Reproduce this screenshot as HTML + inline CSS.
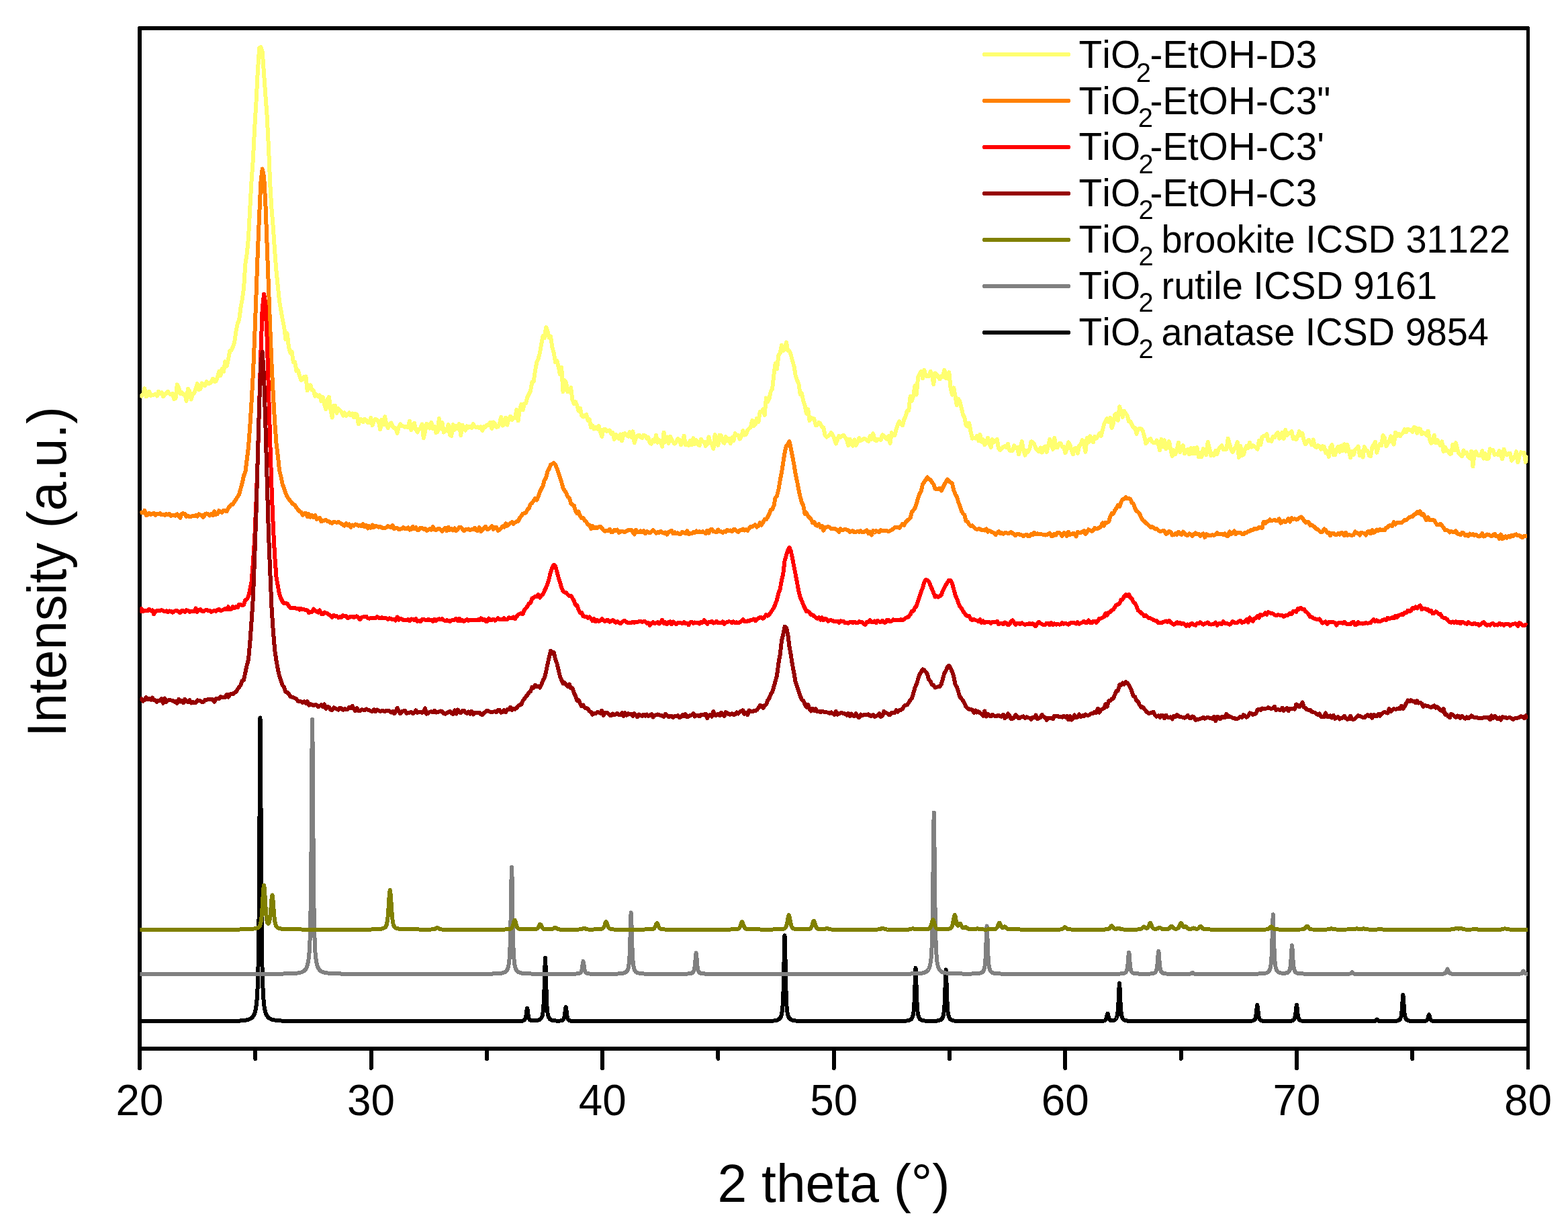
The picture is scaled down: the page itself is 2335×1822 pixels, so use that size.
<!DOCTYPE html>
<html lang="en"><head><meta charset="utf-8"><title>XRD patterns of TiO2 samples</title>
<style>html,body{margin:0;padding:0;background:#fff}svg{display:block}</style></head>
<body>
<svg width="2335" height="1822" viewBox="0 0 2335 1822" font-family="'Liberation Sans', sans-serif" fill="#000" style="font-kerning:none">
<rect width="2335" height="1822" fill="#fff"/>
<defs><clipPath id="pc"><rect x="208.4" y="42.0" width="2067.0" height="1519.0"/></clipPath></defs>
<g stroke="#000" stroke-width="6" fill="none" stroke-linecap="round" stroke-linejoin="round" shape-rendering="crispEdges">
<path d="M208.0,1590.0 V42.0 H2275.0"/>
<path d="M208.0,1561.0 H2275.5" stroke-linecap="butt"/>
<path d="M2275.5,42.0 V1590.0" stroke-width="5"/>
<path d="M552.58,1561.0 V1590.0"/>
<path d="M897.17,1561.0 V1590.0"/>
<path d="M1241.75,1561.0 V1590.0"/>
<path d="M1586.33,1561.0 V1590.0"/>
<path d="M1930.92,1561.0 V1590.0"/>
<path d="M380.29,1561.0 V1576.0"/>
<path d="M724.88,1561.0 V1576.0"/>
<path d="M1069.46,1561.0 V1576.0"/>
<path d="M1414.04,1561.0 V1576.0"/>
<path d="M1758.62,1561.0 V1576.0"/>
<path d="M2103.21,1561.0 V1576.0"/>
</g>
<g clip-path="url(#pc)" fill="none" stroke-width="6" stroke-linejoin="round" stroke-linecap="butt" shape-rendering="crispEdges">
<polyline stroke="#FFFF70" points="208.4,587.0 210.7,589.6 213.0,587.1 215.3,578.3 217.6,590.4 219.9,588.0 222.2,582.8 224.6,589.0 226.9,588.0 229.2,587.8 231.5,586.5 233.8,589.4 236.1,582.6 238.4,585.9 240.7,584.3 243.0,590.2 245.3,587.3 247.6,585.6 249.9,583.0 252.3,585.9 254.6,587.3 256.9,585.8 259.2,594.3 261.5,592.7 263.8,572.4 266.1,576.7 268.4,585.8 270.7,584.2 273.0,587.3 275.3,586.9 277.6,596.8 280.0,578.7 282.3,582.1 284.6,594.6 286.9,586.3 289.2,585.6 291.5,578.3 293.8,571.2 296.1,580.1 298.4,578.8 300.7,570.4 303.0,572.1 305.3,574.2 307.7,568.1 310.0,571.2 312.3,570.7 314.6,568.7 316.9,563.9 319.2,568.0 321.5,567.5 323.8,562.0 326.1,553.1 328.4,558.8 330.7,548.9 333.0,553.0 335.3,538.3 337.7,544.9 340.0,534.8 342.3,522.4 344.6,521.3 346.9,516.3 349.2,509.3 351.5,492.9 353.8,481.4 356.1,476.5 358.4,458.3 360.7,445.8 363.0,429.5 365.4,392.8 367.7,378.0 370.0,353.8 372.3,310.3 374.6,268.7 376.9,236.8 379.2,190.2 381.5,151.9 383.8,106.4 386.1,71.8 388.4,70.1 390.7,76.6 393.1,110.1 395.4,142.8 397.7,173.2 400.0,219.8 402.3,275.0 404.6,312.6 406.9,339.4 409.2,374.0 411.5,403.3 413.8,426.4 416.1,448.6 418.4,462.1 420.7,474.9 423.1,486.7 425.4,505.3 427.7,496.3 430.0,516.7 432.3,525.2 434.6,523.6 436.9,539.3 439.2,539.1 441.5,552.3 443.8,551.1 446.1,559.4 448.4,566.0 450.8,564.7 453.1,561.0 455.4,560.4 457.7,581.3 460.0,573.8 462.3,573.3 464.6,580.6 466.9,581.3 469.2,589.6 471.5,587.6 473.8,590.0 476.1,588.4 478.5,597.1 480.8,591.2 483.1,602.5 485.4,609.2 487.7,594.5 490.0,591.1 492.3,609.6 494.6,621.6 496.9,603.7 499.2,603.6 501.5,614.8 503.8,608.2 506.2,611.0 508.5,612.9 510.8,618.6 513.1,614.4 515.4,619.0 517.7,617.3 520.0,614.5 522.3,618.1 524.6,615.5 526.9,621.4 529.2,616.0 531.5,616.9 533.8,631.4 536.2,623.9 538.5,624.5 540.8,628.2 543.1,623.8 545.4,625.4 547.7,629.5 550.0,629.2 552.3,621.9 554.6,633.2 556.9,625.9 559.2,623.8 561.5,625.0 563.9,628.2 566.2,639.5 568.5,624.6 570.8,632.2 573.1,620.1 575.4,632.0 577.7,637.2 580.0,631.3 582.3,629.5 584.6,634.4 586.9,637.2 589.2,637.3 591.6,644.7 593.9,635.4 596.2,631.3 598.5,634.0 600.8,634.5 603.1,635.7 605.4,635.1 607.7,636.4 610.0,626.6 612.3,640.3 614.6,632.8 616.9,629.7 619.3,639.6 621.6,643.4 623.9,639.1 626.2,637.4 628.5,631.5 630.8,652.2 633.1,641.6 635.4,630.7 637.7,632.7 640.0,637.5 642.3,628.7 644.6,638.1 646.9,634.8 649.3,644.0 651.6,642.6 653.9,622.8 656.2,637.7 658.5,628.8 660.8,643.6 663.1,638.6 665.4,640.7 667.7,632.0 670.0,647.7 672.3,648.7 674.6,632.1 677.0,639.9 679.3,634.2 681.6,637.8 683.9,631.0 686.2,648.0 688.5,632.6 690.8,636.3 693.1,640.6 695.4,634.3 697.7,636.5 700.0,634.7 702.3,637.0 704.7,631.3 707.0,635.1 709.3,636.3 711.6,635.5 713.9,637.4 716.2,635.4 718.5,640.9 720.8,634.8 723.1,635.6 725.4,632.5 727.7,633.0 730.0,628.6 732.4,638.0 734.7,628.5 737.0,630.2 739.3,635.8 741.6,635.4 743.9,630.5 746.2,621.0 748.5,633.5 750.8,631.8 753.1,621.7 755.4,632.6 757.7,623.4 760.0,619.7 762.4,624.9 764.7,621.8 767.0,622.0 769.3,609.9 771.6,626.3 773.9,610.3 776.2,602.0 778.5,610.4 780.8,601.0 783.1,600.2 785.4,591.2 787.7,586.8 790.1,581.6 792.4,568.4 794.7,567.8 797.0,551.8 799.3,539.3 801.6,534.0 803.9,525.5 806.2,511.9 808.5,500.2 810.8,503.3 813.1,487.1 815.4,492.4 817.8,502.7 820.1,501.1 822.4,517.1 824.7,525.2 827.0,539.2 829.3,536.8 831.6,545.6 833.9,557.3 836.2,547.0 838.5,583.1 840.8,566.1 843.1,570.0 845.4,583.1 847.8,582.3 850.1,577.0 852.4,595.0 854.7,600.8 857.0,598.1 859.3,603.3 861.6,611.7 863.9,607.8 866.2,618.6 868.5,620.5 870.8,618.5 873.1,617.1 875.5,625.8 877.8,624.4 880.1,636.5 882.4,633.5 884.7,638.6 887.0,636.4 889.3,638.4 891.6,633.9 893.9,642.9 896.2,649.9 898.5,639.5 900.8,638.8 903.2,641.9 905.5,640.9 907.8,640.4 910.1,645.7 912.4,643.9 914.7,653.9 917.0,646.7 919.3,649.0 921.6,652.9 923.9,646.5 926.2,656.4 928.5,645.6 930.9,645.1 933.2,647.9 935.5,649.6 937.8,643.0 940.1,650.8 942.4,642.3 944.7,659.2 947.0,651.5 949.3,648.7 951.6,647.6 953.9,650.7 956.2,651.9 958.5,647.7 960.9,648.6 963.2,652.8 965.5,651.2 967.8,659.4 970.1,660.7 972.4,654.8 974.7,657.5 977.0,647.9 979.3,658.8 981.6,655.4 983.9,658.4 986.2,664.6 988.6,643.7 990.9,657.7 993.2,650.5 995.5,659.8 997.8,649.6 1000.1,654.2 1002.4,658.1 1004.7,660.5 1007.0,657.7 1009.3,653.1 1011.6,654.5 1013.9,662.4 1016.3,657.7 1018.6,648.7 1020.9,662.4 1023.2,660.2 1025.5,662.7 1027.8,656.2 1030.1,662.5 1032.4,652.3 1034.7,661.1 1037.0,655.4 1039.3,661.6 1041.6,663.3 1044.0,653.8 1046.3,657.4 1048.6,657.8 1050.9,663.9 1053.2,661.1 1055.5,650.5 1057.8,659.4 1060.1,660.7 1062.4,667.9 1064.7,647.0 1067.0,653.0 1069.3,662.8 1071.6,647.9 1074.0,648.4 1076.3,657.3 1078.6,659.6 1080.9,650.0 1083.2,656.1 1085.5,653.3 1087.8,660.3 1090.1,651.4 1092.4,656.2 1094.7,645.1 1097.0,648.2 1099.3,647.8 1101.7,653.6 1104.0,649.5 1106.3,641.1 1108.6,647.6 1110.9,646.7 1113.2,640.4 1115.5,637.9 1117.8,636.3 1120.1,626.0 1122.4,634.0 1124.7,631.7 1127.0,622.7 1129.4,628.4 1131.7,613.1 1134.0,613.5 1136.3,609.4 1138.6,618.1 1140.9,592.4 1143.2,598.2 1145.5,593.4 1147.8,582.6 1150.1,578.9 1152.4,557.7 1154.7,541.2 1157.0,549.2 1159.4,529.0 1161.7,525.8 1164.0,514.0 1166.3,522.0 1168.6,518.5 1170.9,509.5 1173.2,521.7 1175.5,522.4 1177.8,527.9 1180.1,537.4 1182.4,544.9 1184.7,558.9 1187.1,566.2 1189.4,571.2 1191.7,587.0 1194.0,585.3 1196.3,597.2 1198.6,604.1 1200.9,615.5 1203.2,609.4 1205.5,626.2 1207.8,621.5 1210.1,623.0 1212.4,623.5 1214.8,633.2 1217.1,632.8 1219.4,628.7 1221.7,630.6 1224.0,635.6 1226.3,636.5 1228.6,647.7 1230.9,650.6 1233.2,649.0 1235.5,647.4 1237.8,644.1 1240.1,647.6 1242.5,653.0 1244.8,660.5 1247.1,654.6 1249.4,648.7 1251.7,651.0 1254.0,648.7 1256.3,647.6 1258.6,651.3 1260.9,653.7 1263.2,663.0 1265.5,653.6 1267.8,661.0 1270.1,663.5 1272.5,654.5 1274.8,663.0 1277.1,658.3 1279.4,652.2 1281.7,656.0 1284.0,654.7 1286.3,653.3 1288.6,653.4 1290.9,655.2 1293.2,656.7 1295.5,649.3 1297.8,653.9 1300.2,645.4 1302.5,654.8 1304.8,656.4 1307.1,653.5 1309.4,653.7 1311.7,654.8 1314.0,647.3 1316.3,648.9 1318.6,652.1 1320.9,653.8 1323.2,649.4 1325.5,660.0 1327.9,644.1 1330.2,648.4 1332.5,648.0 1334.8,638.2 1337.1,632.0 1339.4,627.3 1341.7,631.5 1344.0,633.2 1346.3,624.6 1348.6,619.6 1350.9,611.5 1353.2,611.2 1355.6,590.1 1357.9,596.9 1360.2,589.0 1362.5,574.2 1364.8,587.5 1367.1,561.1 1369.4,557.5 1371.7,552.7 1374.0,563.2 1376.3,550.6 1378.6,559.7 1380.9,560.3 1383.2,560.1 1385.6,552.8 1387.9,558.2 1390.2,572.1 1392.5,555.5 1394.8,557.6 1397.1,560.3 1399.4,564.4 1401.7,559.7 1404.0,561.3 1406.3,550.6 1408.6,562.9 1410.9,563.0 1413.3,554.4 1415.6,577.3 1417.9,587.7 1420.2,577.2 1422.5,588.9 1424.8,603.4 1427.1,594.1 1429.4,597.7 1431.7,607.5 1434.0,616.9 1436.3,621.7 1438.6,632.6 1441.0,634.7 1443.3,629.8 1445.6,642.9 1447.9,652.8 1450.2,651.5 1452.5,652.5 1454.8,649.1 1457.1,656.1 1459.4,647.0 1461.7,657.7 1464.0,654.4 1466.3,662.2 1468.6,659.5 1471.0,652.0 1473.3,659.5 1475.6,666.2 1477.9,654.1 1480.2,657.8 1482.5,657.3 1484.8,653.9 1487.1,667.8 1489.4,670.2 1491.7,667.8 1494.0,665.2 1496.3,664.0 1498.7,665.9 1501.0,661.0 1503.3,670.2 1505.6,671.3 1507.9,670.9 1510.2,663.3 1512.5,666.8 1514.8,665.7 1517.1,676.5 1519.4,668.0 1521.7,657.0 1524.0,669.5 1526.4,677.7 1528.7,671.3 1531.0,672.5 1533.3,668.1 1535.6,657.3 1537.9,658.3 1540.2,661.4 1542.5,667.5 1544.8,670.0 1547.1,672.1 1549.4,666.5 1551.7,673.6 1554.1,666.9 1556.4,664.6 1558.7,673.1 1561.0,663.5 1563.3,653.6 1565.6,662.6 1567.9,668.8 1570.2,651.6 1572.5,666.3 1574.8,666.3 1577.1,660.3 1579.4,659.8 1581.7,665.2 1584.1,664.6 1586.4,674.2 1588.7,669.2 1591.0,658.3 1593.3,662.0 1595.6,670.1 1597.9,676.2 1600.2,667.7 1602.5,666.8 1604.8,674.7 1607.1,663.9 1609.4,661.7 1611.8,655.0 1614.1,659.0 1616.4,672.7 1618.7,651.9 1621.0,658.5 1623.3,649.2 1625.6,655.9 1627.9,658.1 1630.2,649.7 1632.5,652.6 1634.8,649.8 1637.1,645.3 1639.5,649.2 1641.8,640.8 1644.1,631.6 1646.4,626.5 1648.7,623.0 1651.0,628.1 1653.3,621.7 1655.6,637.0 1657.9,630.6 1660.2,617.7 1662.5,615.7 1664.8,625.8 1667.2,605.2 1669.5,612.8 1671.8,620.9 1674.1,611.6 1676.4,615.7 1678.7,618.7 1681.0,627.2 1683.3,627.4 1685.6,632.2 1687.9,636.7 1690.2,636.9 1692.5,646.0 1694.8,638.9 1697.2,637.8 1699.5,638.4 1701.8,641.6 1704.1,649.5 1706.4,660.1 1708.7,657.1 1711.0,654.4 1713.3,653.2 1715.6,657.4 1717.9,659.2 1720.2,659.4 1722.5,655.6 1724.9,661.6 1727.2,670.5 1729.5,653.8 1731.8,664.9 1734.1,655.3 1736.4,668.3 1738.7,663.8 1741.0,657.0 1743.3,669.2 1745.6,678.9 1747.9,670.0 1750.2,676.0 1752.6,669.6 1754.9,658.6 1757.2,673.2 1759.5,668.5 1761.8,663.0 1764.1,675.4 1766.4,672.9 1768.7,668.7 1771.0,676.4 1773.3,667.1 1775.6,675.4 1777.9,666.9 1780.3,675.0 1782.6,666.3 1784.9,680.4 1787.2,673.8 1789.5,680.2 1791.8,668.1 1794.1,670.0 1796.4,677.2 1798.7,657.8 1801.0,666.9 1803.3,678.3 1805.6,675.2 1807.9,678.0 1810.3,671.0 1812.6,675.7 1814.9,668.6 1817.2,665.1 1819.5,663.3 1821.8,669.4 1824.1,669.3 1826.4,668.7 1828.7,652.7 1831.0,660.9 1833.3,668.7 1835.6,672.9 1838.0,667.9 1840.3,666.0 1842.6,657.8 1844.9,680.9 1847.2,663.5 1849.5,678.1 1851.8,676.8 1854.1,669.1 1856.4,663.8 1858.7,666.8 1861.0,658.8 1863.3,665.5 1865.7,663.0 1868.0,664.7 1870.3,665.7 1872.6,668.6 1874.9,655.6 1877.2,662.1 1879.5,650.7 1881.8,648.8 1884.1,649.2 1886.4,646.2 1888.7,656.2 1891.0,655.4 1893.3,657.0 1895.7,649.7 1898.0,651.4 1900.3,646.8 1902.6,643.7 1904.9,652.6 1907.2,651.6 1909.5,643.9 1911.8,653.0 1914.1,639.9 1916.4,648.1 1918.7,645.1 1921.0,645.3 1923.4,641.9 1925.7,652.8 1928.0,650.7 1930.3,654.4 1932.6,649.2 1934.9,642.2 1937.2,648.4 1939.5,645.3 1941.8,655.7 1944.1,661.4 1946.4,658.2 1948.7,654.8 1951.1,657.6 1953.4,662.2 1955.7,654.5 1958.0,664.5 1960.3,665.9 1962.6,663.0 1964.9,664.6 1967.2,668.7 1969.5,664.1 1971.8,664.8 1974.1,674.1 1976.4,671.6 1978.8,680.0 1981.1,665.9 1983.4,662.0 1985.7,677.1 1988.0,677.4 1990.3,668.5 1992.6,664.7 1994.9,672.6 1997.2,663.5 1999.5,671.2 2001.8,661.3 2004.1,671.9 2006.4,661.7 2008.8,671.9 2011.1,681.4 2013.4,671.6 2015.7,677.2 2018.0,669.4 2020.3,667.9 2022.6,664.4 2024.9,678.0 2027.2,671.8 2029.5,680.6 2031.8,665.0 2034.1,669.8 2036.5,671.0 2038.8,677.8 2041.1,679.4 2043.4,665.4 2045.7,662.0 2048.0,657.9 2050.3,673.8 2052.6,665.1 2054.9,660.9 2057.2,663.0 2059.5,648.1 2061.8,651.3 2064.2,664.4 2066.5,660.0 2068.8,657.1 2071.1,649.3 2073.4,656.5 2075.7,661.6 2078.0,643.8 2080.3,649.4 2082.6,645.8 2084.9,649.1 2087.2,646.1 2089.5,644.3 2091.9,639.2 2094.2,643.0 2096.5,638.7 2098.8,640.4 2101.1,639.9 2103.4,643.1 2105.7,635.8 2108.0,637.0 2110.3,644.7 2112.6,638.1 2114.9,638.7 2117.2,646.1 2119.5,644.3 2121.9,645.1 2124.2,647.7 2126.5,641.6 2128.8,653.0 2131.1,659.7 2133.4,657.5 2135.7,647.7 2138.0,659.5 2140.3,654.6 2142.6,659.8 2144.9,663.1 2147.2,657.2 2149.6,672.1 2151.9,665.5 2154.2,671.1 2156.5,671.1 2158.8,675.7 2161.1,675.5 2163.4,661.7 2165.7,670.4 2168.0,659.1 2170.3,668.7 2172.6,675.4 2174.9,676.8 2177.3,679.2 2179.6,670.5 2181.9,674.5 2184.2,673.5 2186.5,680.1 2188.8,682.0 2191.1,671.7 2193.4,694.3 2195.7,674.0 2198.0,672.2 2200.3,677.5 2202.6,678.5 2204.9,677.5 2207.3,671.2 2209.6,682.7 2211.9,675.2 2214.2,683.3 2216.5,682.6 2218.8,668.3 2221.1,670.0 2223.4,669.9 2225.7,676.8 2228.0,675.8 2230.3,677.0 2232.6,671.2 2235.0,678.0 2237.3,683.4 2239.6,668.6 2241.9,674.8 2244.2,677.3 2246.5,675.3 2248.8,675.0 2251.1,685.6 2253.4,683.1 2255.7,680.8 2258.0,672.1 2260.3,688.4 2262.7,678.2 2265.0,673.2 2267.3,674.5 2269.6,673.7 2271.9,687.9 2274.2,677.6"/>
<polyline stroke="#FF8000" points="208.4,764.0 210.7,762.8 213.0,763.1 215.3,759.8 217.6,767.1 219.9,766.2 222.2,763.8 224.6,765.8 226.9,765.2 229.2,763.9 231.5,766.7 233.8,764.7 236.1,764.8 238.4,764.2 240.7,766.5 243.0,765.7 245.3,766.9 247.6,765.1 249.9,766.5 252.3,764.9 254.6,768.0 256.9,767.0 259.2,767.4 261.5,767.6 263.8,765.3 266.1,768.5 268.4,770.7 270.7,764.5 273.0,764.4 275.3,764.9 277.6,768.9 280.0,767.7 282.3,769.4 284.6,768.7 286.9,767.8 289.2,767.9 291.5,767.1 293.8,768.8 296.1,765.3 298.4,766.4 300.7,767.4 303.0,769.9 305.3,765.3 307.7,764.5 310.0,765.1 312.3,767.4 314.6,765.0 316.9,767.3 319.2,761.3 321.5,765.9 323.8,765.2 326.1,760.2 328.4,762.1 330.7,763.0 333.0,760.0 335.3,760.4 337.7,761.4 340.0,756.2 342.3,753.5 344.6,750.6 346.9,750.7 349.2,746.5 351.5,743.3 353.8,739.5 356.1,736.2 358.4,727.4 360.7,719.2 363.0,708.2 365.4,702.4 367.7,684.1 370.0,665.4 372.3,634.6 374.6,597.6 376.9,556.0 379.2,502.1 381.5,439.2 383.8,375.7 386.1,320.9 388.4,271.1 390.7,251.4 393.1,262.9 395.4,303.8 397.7,366.5 400.0,428.5 402.3,488.7 404.6,544.6 406.9,589.1 409.2,628.5 411.5,659.7 413.8,678.7 416.1,700.2 418.4,709.4 420.7,720.9 423.1,726.9 425.4,734.1 427.7,739.4 430.0,742.6 432.3,745.6 434.6,748.5 436.9,750.8 439.2,751.7 441.5,755.9 443.8,758.8 446.1,761.3 448.4,762.3 450.8,766.7 453.1,764.3 455.4,764.1 457.7,769.2 460.0,765.1 462.3,769.6 464.6,767.2 466.9,770.3 469.2,767.1 471.5,772.8 473.8,771.7 476.1,771.1 478.5,776.3 480.8,775.4 483.1,774.8 485.4,774.0 487.7,775.8 490.0,776.1 492.3,778.2 494.6,778.8 496.9,776.7 499.2,777.4 501.5,777.8 503.8,776.8 506.2,778.4 508.5,779.6 510.8,781.2 513.1,782.6 515.4,779.2 517.7,781.8 520.0,780.3 522.3,784.9 524.6,781.5 526.9,782.6 529.2,780.4 531.5,780.8 533.8,782.7 536.2,781.9 538.5,783.3 540.8,780.3 543.1,784.2 545.4,781.8 547.7,786.4 550.0,783.1 552.3,785.7 554.6,781.6 556.9,784.9 559.2,782.8 561.5,783.6 563.9,784.6 566.2,784.2 568.5,785.3 570.8,786.3 573.1,786.3 575.4,785.2 577.7,783.2 580.0,784.2 582.3,785.4 584.6,782.3 586.9,787.3 589.2,785.7 591.6,785.8 593.9,788.0 596.2,787.6 598.5,787.0 600.8,785.0 603.1,787.3 605.4,787.4 607.7,785.4 610.0,788.8 612.3,787.9 614.6,783.8 616.9,787.4 619.3,785.1 621.6,789.2 623.9,788.7 626.2,785.5 628.5,785.9 630.8,787.6 633.1,787.1 635.4,790.1 637.7,788.8 640.0,787.1 642.3,788.6 644.6,784.2 646.9,788.2 649.3,789.2 651.6,787.5 653.9,786.6 656.2,788.8 658.5,791.2 660.8,788.2 663.1,786.0 665.4,790.4 667.7,784.7 670.0,788.8 672.3,786.9 674.6,789.5 677.0,786.5 679.3,790.2 681.6,788.4 683.9,785.0 686.2,784.5 688.5,787.3 690.8,790.1 693.1,788.1 695.4,787.9 697.7,787.4 700.0,789.0 702.3,788.3 704.7,788.1 707.0,785.9 709.3,789.5 711.6,789.8 713.9,785.1 716.2,791.2 718.5,788.4 720.8,786.2 723.1,783.7 725.4,787.9 727.7,787.6 730.0,785.4 732.4,783.2 734.7,788.0 737.0,784.8 739.3,784.8 741.6,790.1 743.9,788.6 746.2,786.2 748.5,783.4 750.8,784.8 753.1,779.2 755.4,782.7 757.7,780.5 760.0,778.8 762.4,777.3 764.7,779.8 767.0,777.8 769.3,776.4 771.6,775.9 773.9,771.0 776.2,768.1 778.5,764.6 780.8,764.4 783.1,763.3 785.4,758.5 787.7,756.7 790.1,750.4 792.4,748.7 794.7,745.4 797.0,741.8 799.3,744.4 801.6,739.2 803.9,732.3 806.2,727.6 808.5,723.4 810.8,714.7 813.1,711.5 815.4,701.8 817.8,697.6 820.1,691.9 822.4,690.6 824.7,689.2 827.0,691.3 829.3,697.1 831.6,703.6 833.9,710.8 836.2,717.8 838.5,726.5 840.8,730.5 843.1,733.4 845.4,739.5 847.8,741.0 850.1,749.0 852.4,751.6 854.7,752.4 857.0,760.2 859.3,764.2 861.6,761.6 863.9,768.1 866.2,771.3 868.5,771.2 870.8,774.7 873.1,776.7 875.5,780.8 877.8,781.7 880.1,786.9 882.4,782.7 884.7,786.2 887.0,785.1 889.3,786.2 891.6,784.3 893.9,783.6 896.2,786.0 898.5,789.1 900.8,790.8 903.2,789.5 905.5,789.7 907.8,787.7 910.1,792.0 912.4,791.9 914.7,788.9 917.0,790.0 919.3,788.5 921.6,792.9 923.9,791.3 926.2,790.6 928.5,791.6 930.9,791.7 933.2,790.4 935.5,789.1 937.8,789.1 940.1,788.5 942.4,792.3 944.7,795.4 947.0,788.8 949.3,792.0 951.6,792.5 953.9,790.2 956.2,792.3 958.5,790.1 960.9,794.1 963.2,791.1 965.5,792.3 967.8,793.4 970.1,791.5 972.4,789.2 974.7,791.4 977.0,793.6 979.3,792.2 981.6,792.8 983.9,790.6 986.2,792.7 988.6,793.7 990.9,792.5 993.2,795.7 995.5,792.1 997.8,790.7 1000.1,789.7 1002.4,794.4 1004.7,792.4 1007.0,794.2 1009.3,793.3 1011.6,795.2 1013.9,794.6 1016.3,791.8 1018.6,792.9 1020.9,794.3 1023.2,790.3 1025.5,794.9 1027.8,794.4 1030.1,794.0 1032.4,792.0 1034.7,792.8 1037.0,790.3 1039.3,792.3 1041.6,791.2 1044.0,792.3 1046.3,791.2 1048.6,792.5 1050.9,794.0 1053.2,789.7 1055.5,793.4 1057.8,788.4 1060.1,788.0 1062.4,791.4 1064.7,791.5 1067.0,792.2 1069.3,788.5 1071.6,791.1 1074.0,791.3 1076.3,793.1 1078.6,790.7 1080.9,791.6 1083.2,788.9 1085.5,790.1 1087.8,789.5 1090.1,791.2 1092.4,788.1 1094.7,788.2 1097.0,790.3 1099.3,792.1 1101.7,789.4 1104.0,789.0 1106.3,787.5 1108.6,789.6 1110.9,788.2 1113.2,789.8 1115.5,786.8 1117.8,784.0 1120.1,784.0 1122.4,782.5 1124.7,781.2 1127.0,784.6 1129.4,782.7 1131.7,777.9 1134.0,781.6 1136.3,777.3 1138.6,773.2 1140.9,773.2 1143.2,769.7 1145.5,765.2 1147.8,759.2 1150.1,758.0 1152.4,752.8 1154.7,740.8 1157.0,738.2 1159.4,728.5 1161.7,715.0 1164.0,703.0 1166.3,688.3 1168.6,673.8 1170.9,663.9 1173.2,661.6 1175.5,657.2 1177.8,667.7 1180.1,679.4 1182.4,691.6 1184.7,705.9 1187.1,716.9 1189.4,729.0 1191.7,739.9 1194.0,748.3 1196.3,752.6 1198.6,765.0 1200.9,763.1 1203.2,768.0 1205.5,770.5 1207.8,772.9 1210.1,778.1 1212.4,776.9 1214.8,781.7 1217.1,782.8 1219.4,780.3 1221.7,784.9 1224.0,783.0 1226.3,789.7 1228.6,785.0 1230.9,784.7 1233.2,783.7 1235.5,785.2 1237.8,786.9 1240.1,786.6 1242.5,786.6 1244.8,787.9 1247.1,789.0 1249.4,792.1 1251.7,787.0 1254.0,789.2 1256.3,788.7 1258.6,787.9 1260.9,788.5 1263.2,789.3 1265.5,792.2 1267.8,790.7 1270.1,790.2 1272.5,792.3 1274.8,791.8 1277.1,791.0 1279.4,792.0 1281.7,790.0 1284.0,792.5 1286.3,792.2 1288.6,790.7 1290.9,789.3 1293.2,794.0 1295.5,791.5 1297.8,796.5 1300.2,790.0 1302.5,792.5 1304.8,790.2 1307.1,791.2 1309.4,792.1 1311.7,789.1 1314.0,790.1 1316.3,790.3 1318.6,789.9 1320.9,790.4 1323.2,790.8 1325.5,790.1 1327.9,788.7 1330.2,787.1 1332.5,785.2 1334.8,785.1 1337.1,784.7 1339.4,785.8 1341.7,782.9 1344.0,780.0 1346.3,781.7 1348.6,777.3 1350.9,775.0 1353.2,773.1 1355.6,771.0 1357.9,762.0 1360.2,759.6 1362.5,756.5 1364.8,749.5 1367.1,741.8 1369.4,735.1 1371.7,731.3 1374.0,721.0 1376.3,717.5 1378.6,714.0 1380.9,710.5 1383.2,713.2 1385.6,714.4 1387.9,717.9 1390.2,720.8 1392.5,727.6 1394.8,727.5 1397.1,728.2 1399.4,726.8 1401.7,730.5 1404.0,726.0 1406.3,721.3 1408.6,717.2 1410.9,713.6 1413.3,716.5 1415.6,718.2 1417.9,719.1 1420.2,729.4 1422.5,735.4 1424.8,739.3 1427.1,746.9 1429.4,753.5 1431.7,760.2 1434.0,764.7 1436.3,766.4 1438.6,775.6 1441.0,776.7 1443.3,780.9 1445.6,783.1 1447.9,782.4 1450.2,784.9 1452.5,786.9 1454.8,788.1 1457.1,787.4 1459.4,787.5 1461.7,789.3 1464.0,788.5 1466.3,789.5 1468.6,787.4 1471.0,791.5 1473.3,790.0 1475.6,791.2 1477.9,792.4 1480.2,793.3 1482.5,796.3 1484.8,793.7 1487.1,791.1 1489.4,794.0 1491.7,793.0 1494.0,794.8 1496.3,793.2 1498.7,793.3 1501.0,793.8 1503.3,793.7 1505.6,791.8 1507.9,793.9 1510.2,795.1 1512.5,797.3 1514.8,794.8 1517.1,794.8 1519.4,796.5 1521.7,796.4 1524.0,798.3 1526.4,796.6 1528.7,795.6 1531.0,798.0 1533.3,798.4 1535.6,795.0 1537.9,796.1 1540.2,792.9 1542.5,795.2 1544.8,794.3 1547.1,795.5 1549.4,795.0 1551.7,795.5 1554.1,795.6 1556.4,796.6 1558.7,796.2 1561.0,794.8 1563.3,793.5 1565.6,797.8 1567.9,798.0 1570.2,794.8 1572.5,796.5 1574.8,792.9 1577.1,792.7 1579.4,794.9 1581.7,797.7 1584.1,793.3 1586.4,793.6 1588.7,797.7 1591.0,791.6 1593.3,795.8 1595.6,795.3 1597.9,794.0 1600.2,794.5 1602.5,798.4 1604.8,791.8 1607.1,792.9 1609.4,792.8 1611.8,791.7 1614.1,790.2 1616.4,794.9 1618.7,792.1 1621.0,788.2 1623.3,789.4 1625.6,790.7 1627.9,789.9 1630.2,785.9 1632.5,787.2 1634.8,786.7 1637.1,785.5 1639.5,784.0 1641.8,778.4 1644.1,782.7 1646.4,777.6 1648.7,777.9 1651.0,777.0 1653.3,768.8 1655.6,764.0 1657.9,764.6 1660.2,759.8 1662.5,756.3 1664.8,752.3 1667.2,754.2 1669.5,747.5 1671.8,743.2 1674.1,742.8 1676.4,740.1 1678.7,742.2 1681.0,742.0 1683.3,742.7 1685.6,748.6 1687.9,749.9 1690.2,756.2 1692.5,761.2 1694.8,762.2 1697.2,765.4 1699.5,770.3 1701.8,774.6 1704.1,775.8 1706.4,778.4 1708.7,780.3 1711.0,782.7 1713.3,784.9 1715.6,784.0 1717.9,785.6 1720.2,787.6 1722.5,787.3 1724.9,789.5 1727.2,790.9 1729.5,790.6 1731.8,790.1 1734.1,790.3 1736.4,795.1 1738.7,794.0 1741.0,790.9 1743.3,791.7 1745.6,796.6 1747.9,796.3 1750.2,794.1 1752.6,796.1 1754.9,791.8 1757.2,794.5 1759.5,795.9 1761.8,791.6 1764.1,793.6 1766.4,796.4 1768.7,797.1 1771.0,794.2 1773.3,795.8 1775.6,798.1 1777.9,794.8 1780.3,793.3 1782.6,795.5 1784.9,795.0 1787.2,797.9 1789.5,796.0 1791.8,794.4 1794.1,799.9 1796.4,794.9 1798.7,796.6 1801.0,796.9 1803.3,797.1 1805.6,796.1 1807.9,796.8 1810.3,795.6 1812.6,793.3 1814.9,795.3 1817.2,795.3 1819.5,795.3 1821.8,795.7 1824.1,794.4 1826.4,797.6 1828.7,797.9 1831.0,791.4 1833.3,795.0 1835.6,793.6 1838.0,790.2 1840.3,795.2 1842.6,793.2 1844.9,793.4 1847.2,792.6 1849.5,795.2 1851.8,795.1 1854.1,793.0 1856.4,793.1 1858.7,791.2 1861.0,790.9 1863.3,788.6 1865.7,789.1 1868.0,786.8 1870.3,787.6 1872.6,787.2 1874.9,785.0 1877.2,785.1 1879.5,786.3 1881.8,776.6 1884.1,778.9 1886.4,776.6 1888.7,775.7 1891.0,773.4 1893.3,775.3 1895.7,774.6 1898.0,774.1 1900.3,775.0 1902.6,774.9 1904.9,772.3 1907.2,778.6 1909.5,776.4 1911.8,775.4 1914.1,777.4 1916.4,775.3 1918.7,772.1 1921.0,776.6 1923.4,771.2 1925.7,772.7 1928.0,772.3 1930.3,773.6 1932.6,772.8 1934.9,770.8 1937.2,769.5 1939.5,771.0 1941.8,774.9 1944.1,777.7 1946.4,777.4 1948.7,777.2 1951.1,782.0 1953.4,781.4 1955.7,783.0 1958.0,784.7 1960.3,787.6 1962.6,788.3 1964.9,790.6 1967.2,792.1 1969.5,791.6 1971.8,787.4 1974.1,789.1 1976.4,792.9 1978.8,792.9 1981.1,797.1 1983.4,793.7 1985.7,793.8 1988.0,795.9 1990.3,796.3 1992.6,794.2 1994.9,795.6 1997.2,793.0 1999.5,793.4 2001.8,797.2 2004.1,792.7 2006.4,796.8 2008.8,796.4 2011.1,796.5 2013.4,796.8 2015.7,796.2 2018.0,791.5 2020.3,793.4 2022.6,794.0 2024.9,796.5 2027.2,792.8 2029.5,793.4 2031.8,793.8 2034.1,796.5 2036.5,791.5 2038.8,791.3 2041.1,794.4 2043.4,789.2 2045.7,793.0 2048.0,791.1 2050.3,788.5 2052.6,789.8 2054.9,788.0 2057.2,789.1 2059.5,788.5 2061.8,789.4 2064.2,785.7 2066.5,784.7 2068.8,782.4 2071.1,782.2 2073.4,783.1 2075.7,777.0 2078.0,780.7 2080.3,777.9 2082.6,778.3 2084.9,778.0 2087.2,778.1 2089.5,776.2 2091.9,774.0 2094.2,773.9 2096.5,772.0 2098.8,770.0 2101.1,769.2 2103.4,768.8 2105.7,766.2 2108.0,765.2 2110.3,762.0 2112.6,763.9 2114.9,761.2 2117.2,766.5 2119.5,764.8 2121.9,770.0 2124.2,774.4 2126.5,769.9 2128.8,774.3 2131.1,774.0 2133.4,773.7 2135.7,774.6 2138.0,778.5 2140.3,781.5 2142.6,781.3 2144.9,779.8 2147.2,782.3 2149.6,785.2 2151.9,789.4 2154.2,788.8 2156.5,790.0 2158.8,792.5 2161.1,791.0 2163.4,791.9 2165.7,792.4 2168.0,790.2 2170.3,794.5 2172.6,794.9 2174.9,796.2 2177.3,792.8 2179.6,793.7 2181.9,797.0 2184.2,796.1 2186.5,798.1 2188.8,794.5 2191.1,796.5 2193.4,795.1 2195.7,796.9 2198.0,795.7 2200.3,797.6 2202.6,798.6 2204.9,798.0 2207.3,793.9 2209.6,798.6 2211.9,797.9 2214.2,795.4 2216.5,795.7 2218.8,797.3 2221.1,798.3 2223.4,796.7 2225.7,794.7 2228.0,798.0 2230.3,797.9 2232.6,801.8 2235.0,795.5 2237.3,802.0 2239.6,800.7 2241.9,798.3 2244.2,800.6 2246.5,798.0 2248.8,799.5 2251.1,796.6 2253.4,798.0 2255.7,796.2 2258.0,795.3 2260.3,797.5 2262.7,796.9 2265.0,799.0 2267.3,800.2 2269.6,797.8 2271.9,798.2 2274.2,798.4"/>
<polyline stroke="#FF0000" points="208.4,912.4 210.7,906.0 213.0,910.2 215.3,908.8 217.6,909.0 219.9,909.3 222.2,906.8 224.6,909.3 226.9,908.4 229.2,914.3 231.5,910.0 233.8,909.1 236.1,909.3 238.4,908.7 240.7,908.2 243.0,909.1 245.3,910.3 247.6,909.3 249.9,911.0 252.3,909.4 254.6,909.7 256.9,911.8 259.2,910.4 261.5,908.9 263.8,909.4 266.1,910.4 268.4,912.3 270.7,909.2 273.0,909.3 275.3,911.0 277.6,908.3 280.0,909.1 282.3,910.8 284.6,910.3 286.9,909.6 289.2,910.4 291.5,905.5 293.8,910.8 296.1,908.0 298.4,907.0 300.7,909.6 303.0,910.2 305.3,908.5 307.7,907.6 310.0,909.0 312.3,908.8 314.6,910.8 316.9,909.8 319.2,908.9 321.5,910.0 323.8,908.0 326.1,906.9 328.4,908.8 330.7,908.6 333.0,907.2 335.3,906.2 337.7,907.3 340.0,903.2 342.3,907.3 344.6,906.6 346.9,903.1 349.2,904.9 351.5,902.8 353.8,904.4 356.1,899.6 358.4,900.1 360.7,901.1 363.0,900.0 365.4,893.0 367.7,892.0 370.0,887.7 372.3,877.4 374.6,865.5 376.9,836.9 379.2,801.9 381.5,747.1 383.8,683.6 386.1,603.3 388.4,524.6 390.7,459.6 393.1,437.7 395.4,451.6 397.7,505.6 400.0,581.5 402.3,659.3 404.6,729.1 406.9,786.1 409.2,827.8 411.5,859.0 413.8,872.4 416.1,884.2 418.4,890.8 420.7,895.5 423.1,898.5 425.4,897.8 427.7,898.5 430.0,902.1 432.3,904.8 434.6,905.0 436.9,904.9 439.2,904.7 441.5,906.1 443.8,905.8 446.1,907.7 448.4,905.7 450.8,907.4 453.1,907.3 455.4,908.5 457.7,908.4 460.0,912.0 462.3,910.8 464.6,911.2 466.9,906.6 469.2,909.5 471.5,909.6 473.8,911.7 476.1,908.4 478.5,913.8 480.8,914.2 483.1,911.5 485.4,912.5 487.7,913.3 490.0,915.0 492.3,916.3 494.6,918.7 496.9,915.9 499.2,917.6 501.5,917.0 503.8,919.5 506.2,918.3 508.5,919.3 510.8,916.0 513.1,917.4 515.4,916.7 517.7,920.1 520.0,919.0 522.3,917.8 524.6,917.7 526.9,919.1 529.2,917.6 531.5,917.4 533.8,919.5 536.2,922.4 538.5,918.7 540.8,918.4 543.1,917.6 545.4,917.5 547.7,920.2 550.0,920.8 552.3,919.7 554.6,920.3 556.9,920.1 559.2,920.2 561.5,918.0 563.9,919.6 566.2,920.5 568.5,919.3 570.8,919.9 573.1,919.5 575.4,920.3 577.7,922.0 580.0,920.4 582.3,920.8 584.6,922.3 586.9,922.1 589.2,923.6 591.6,918.4 593.9,922.6 596.2,920.8 598.5,921.7 600.8,922.8 603.1,923.2 605.4,923.2 607.7,922.0 610.0,924.1 612.3,921.5 614.6,921.7 616.9,923.1 619.3,921.3 621.6,925.1 623.9,923.6 626.2,925.3 628.5,922.2 630.8,921.8 633.1,922.6 635.4,923.4 637.7,921.6 640.0,923.0 642.3,922.5 644.6,924.9 646.9,921.7 649.3,924.2 651.6,921.8 653.9,921.4 656.2,921.8 658.5,921.2 660.8,923.1 663.1,924.4 665.4,923.2 667.7,923.9 670.0,925.4 672.3,923.5 674.6,923.4 677.0,922.8 679.3,920.9 681.6,924.3 683.9,920.8 686.2,924.2 688.5,923.3 690.8,924.9 693.1,923.3 695.4,922.2 697.7,923.9 700.0,922.6 702.3,923.2 704.7,923.5 707.0,923.2 709.3,923.2 711.6,922.3 713.9,923.2 716.2,920.4 718.5,923.2 720.8,921.7 723.1,924.9 725.4,925.1 727.7,920.5 730.0,923.4 732.4,922.9 734.7,921.6 737.0,923.7 739.3,922.2 741.6,920.2 743.9,922.2 746.2,922.2 748.5,922.3 750.8,920.2 753.1,922.5 755.4,922.4 757.7,919.3 760.0,919.6 762.4,919.8 764.7,918.5 767.0,921.0 769.3,917.8 771.6,914.9 773.9,913.8 776.2,913.0 778.5,914.2 780.8,908.1 783.1,905.5 785.4,902.7 787.7,898.2 790.1,897.8 792.4,890.4 794.7,889.8 797.0,887.5 799.3,887.8 801.6,885.4 803.9,889.7 806.2,886.3 808.5,884.6 810.8,879.7 813.1,874.6 815.4,869.2 817.8,861.0 820.1,851.4 822.4,844.7 824.7,840.9 827.0,842.5 829.3,850.8 831.6,859.3 833.9,866.6 836.2,874.7 838.5,880.3 840.8,881.6 843.1,882.3 845.4,884.7 847.8,887.5 850.1,886.6 852.4,890.1 854.7,894.3 857.0,900.8 859.3,900.7 861.6,907.7 863.9,912.0 866.2,911.8 868.5,917.3 870.8,917.7 873.1,917.5 875.5,919.7 877.8,918.2 880.1,920.3 882.4,924.3 884.7,921.0 887.0,925.3 889.3,923.0 891.6,924.9 893.9,923.9 896.2,921.0 898.5,923.6 900.8,924.9 903.2,923.2 905.5,923.1 907.8,925.7 910.1,924.4 912.4,923.0 914.7,924.6 917.0,926.9 919.3,925.1 921.6,927.2 923.9,928.1 926.2,926.1 928.5,924.5 930.9,924.3 933.2,926.2 935.5,927.5 937.8,926.7 940.1,927.2 942.4,925.8 944.7,926.9 947.0,925.9 949.3,926.1 951.6,924.8 953.9,924.5 956.2,926.0 958.5,925.2 960.9,925.4 963.2,927.7 965.5,926.7 967.8,930.9 970.1,928.1 972.4,926.0 974.7,928.0 977.0,927.4 979.3,926.0 981.6,928.5 983.9,925.9 986.2,922.7 988.6,928.1 990.9,926.1 993.2,929.1 995.5,926.1 997.8,925.4 1000.1,929.2 1002.4,925.5 1004.7,927.3 1007.0,929.1 1009.3,927.2 1011.6,926.9 1013.9,927.2 1016.3,928.2 1018.6,925.9 1020.9,927.9 1023.2,927.8 1025.5,930.3 1027.8,926.5 1030.1,925.7 1032.4,928.0 1034.7,926.4 1037.0,927.3 1039.3,927.1 1041.6,928.5 1044.0,926.0 1046.3,926.7 1048.6,923.3 1050.9,925.6 1053.2,928.9 1055.5,925.8 1057.8,925.7 1060.1,925.0 1062.4,927.5 1064.7,926.9 1067.0,924.9 1069.3,927.5 1071.6,926.8 1074.0,927.5 1076.3,925.4 1078.6,928.7 1080.9,926.8 1083.2,926.0 1085.5,925.3 1087.8,925.6 1090.1,927.0 1092.4,925.4 1094.7,927.1 1097.0,926.3 1099.3,927.2 1101.7,926.3 1104.0,924.9 1106.3,922.1 1108.6,925.0 1110.9,925.5 1113.2,924.3 1115.5,924.6 1117.8,922.8 1120.1,922.6 1122.4,921.4 1124.7,924.2 1127.0,922.0 1129.4,920.4 1131.7,918.6 1134.0,919.4 1136.3,920.7 1138.6,918.2 1140.9,915.2 1143.2,916.7 1145.5,914.7 1147.8,911.6 1150.1,908.2 1152.4,904.8 1154.7,898.9 1157.0,893.0 1159.4,883.0 1161.7,876.9 1164.0,863.8 1166.3,853.9 1168.6,834.5 1170.9,826.7 1173.2,818.9 1175.5,814.8 1177.8,820.7 1180.1,831.2 1182.4,843.6 1184.7,855.1 1187.1,867.8 1189.4,880.0 1191.7,889.2 1194.0,894.6 1196.3,900.3 1198.6,905.1 1200.9,909.9 1203.2,909.7 1205.5,911.6 1207.8,915.5 1210.1,915.3 1212.4,917.3 1214.8,919.3 1217.1,920.7 1219.4,919.3 1221.7,922.6 1224.0,919.5 1226.3,923.3 1228.6,920.7 1230.9,921.5 1233.2,924.6 1235.5,923.4 1237.8,923.1 1240.1,923.9 1242.5,925.4 1244.8,924.8 1247.1,925.0 1249.4,926.7 1251.7,924.4 1254.0,924.9 1256.3,924.9 1258.6,927.4 1260.9,927.2 1263.2,927.7 1265.5,925.9 1267.8,925.8 1270.1,927.3 1272.5,925.6 1274.8,927.4 1277.1,927.2 1279.4,925.3 1281.7,926.1 1284.0,926.1 1286.3,928.7 1288.6,929.9 1290.9,926.1 1293.2,926.2 1295.5,923.0 1297.8,926.4 1300.2,926.1 1302.5,924.5 1304.8,927.1 1307.1,923.7 1309.4,925.5 1311.7,925.9 1314.0,923.8 1316.3,926.6 1318.6,926.7 1320.9,923.1 1323.2,922.9 1325.5,925.4 1327.9,924.3 1330.2,922.3 1332.5,923.2 1334.8,923.1 1337.1,922.6 1339.4,923.4 1341.7,922.1 1344.0,923.3 1346.3,921.9 1348.6,919.8 1350.9,919.1 1353.2,917.8 1355.6,914.9 1357.9,909.7 1360.2,909.6 1362.5,904.6 1364.8,902.2 1367.1,894.3 1369.4,888.3 1371.7,880.7 1374.0,875.4 1376.3,867.0 1378.6,862.8 1380.9,863.6 1383.2,865.6 1385.6,871.7 1387.9,877.0 1390.2,882.3 1392.5,888.5 1394.8,887.3 1397.1,888.6 1399.4,887.3 1401.7,886.0 1404.0,879.4 1406.3,875.0 1408.6,870.6 1410.9,866.9 1413.3,863.8 1415.6,864.3 1417.9,868.3 1420.2,876.9 1422.5,885.6 1424.8,891.0 1427.1,897.1 1429.4,902.8 1431.7,905.2 1434.0,909.7 1436.3,912.6 1438.6,915.8 1441.0,917.2 1443.3,917.0 1445.6,921.6 1447.9,923.4 1450.2,921.6 1452.5,923.2 1454.8,923.7 1457.1,925.0 1459.4,922.3 1461.7,927.0 1464.0,924.5 1466.3,927.3 1468.6,925.9 1471.0,925.5 1473.3,926.1 1475.6,927.8 1477.9,925.5 1480.2,926.4 1482.5,926.4 1484.8,924.8 1487.1,929.2 1489.4,928.3 1491.7,927.6 1494.0,929.4 1496.3,926.5 1498.7,927.8 1501.0,930.4 1503.3,929.5 1505.6,925.0 1507.9,923.5 1510.2,926.8 1512.5,929.8 1514.8,927.7 1517.1,928.1 1519.4,929.3 1521.7,927.3 1524.0,928.8 1526.4,929.7 1528.7,929.3 1531.0,929.2 1533.3,927.8 1535.6,929.4 1537.9,928.1 1540.2,930.5 1542.5,932.3 1544.8,927.6 1547.1,925.6 1549.4,928.1 1551.7,929.2 1554.1,930.1 1556.4,930.2 1558.7,927.5 1561.0,927.5 1563.3,930.4 1565.6,927.0 1567.9,930.1 1570.2,928.2 1572.5,929.6 1574.8,929.4 1577.1,929.5 1579.4,929.5 1581.7,926.9 1584.1,928.7 1586.4,928.2 1588.7,928.5 1591.0,929.8 1593.3,927.6 1595.6,926.9 1597.9,926.7 1600.2,927.2 1602.5,928.6 1604.8,926.2 1607.1,928.8 1609.4,927.5 1611.8,926.5 1614.1,924.8 1616.4,926.7 1618.7,927.1 1621.0,923.3 1623.3,927.1 1625.6,927.4 1627.9,925.1 1630.2,924.7 1632.5,926.8 1634.8,924.4 1637.1,920.5 1639.5,920.7 1641.8,919.3 1644.1,917.9 1646.4,913.2 1648.7,915.8 1651.0,911.9 1653.3,910.9 1655.6,908.3 1657.9,907.5 1660.2,903.5 1662.5,900.4 1664.8,899.8 1667.2,898.3 1669.5,892.7 1671.8,892.2 1674.1,887.8 1676.4,884.8 1678.7,887.3 1681.0,884.8 1683.3,889.9 1685.6,891.2 1687.9,896.5 1690.2,898.1 1692.5,902.5 1694.8,908.6 1697.2,910.3 1699.5,912.7 1701.8,914.2 1704.1,917.3 1706.4,916.2 1708.7,917.9 1711.0,920.4 1713.3,920.4 1715.6,921.4 1717.9,923.0 1720.2,923.6 1722.5,924.0 1724.9,927.1 1727.2,926.6 1729.5,927.3 1731.8,925.8 1734.1,925.4 1736.4,924.4 1738.7,926.1 1741.0,923.9 1743.3,926.2 1745.6,928.3 1747.9,929.6 1750.2,928.8 1752.6,926.4 1754.9,928.4 1757.2,926.7 1759.5,929.0 1761.8,927.8 1764.1,929.2 1766.4,931.7 1768.7,929.5 1771.0,931.5 1773.3,928.5 1775.6,927.9 1777.9,930.2 1780.3,930.8 1782.6,927.6 1784.9,928.5 1787.2,926.4 1789.5,928.2 1791.8,929.7 1794.1,928.4 1796.4,927.7 1798.7,926.5 1801.0,929.0 1803.3,929.6 1805.6,929.3 1807.9,928.8 1810.3,926.6 1812.6,930.8 1814.9,928.2 1817.2,928.1 1819.5,929.2 1821.8,925.1 1824.1,928.0 1826.4,927.8 1828.7,928.4 1831.0,929.6 1833.3,928.3 1835.6,924.9 1838.0,926.8 1840.3,927.4 1842.6,927.1 1844.9,924.8 1847.2,923.9 1849.5,926.7 1851.8,926.0 1854.1,925.0 1856.4,922.1 1858.7,926.4 1861.0,919.2 1863.3,922.0 1865.7,924.6 1868.0,920.5 1870.3,920.1 1872.6,917.0 1874.9,919.6 1877.2,914.7 1879.5,915.9 1881.8,914.9 1884.1,912.4 1886.4,914.7 1888.7,911.2 1891.0,912.3 1893.3,913.5 1895.7,913.4 1898.0,915.2 1900.3,916.5 1902.6,915.3 1904.9,915.5 1907.2,915.8 1909.5,916.2 1911.8,917.9 1914.1,916.1 1916.4,916.5 1918.7,915.0 1921.0,913.0 1923.4,914.2 1925.7,910.1 1928.0,910.1 1930.3,910.9 1932.6,906.1 1934.9,906.9 1937.2,904.7 1939.5,906.9 1941.8,906.8 1944.1,910.1 1946.4,911.7 1948.7,914.6 1951.1,918.5 1953.4,918.4 1955.7,920.4 1958.0,920.8 1960.3,921.7 1962.6,921.9 1964.9,921.4 1967.2,924.8 1969.5,927.6 1971.8,926.4 1974.1,925.4 1976.4,928.9 1978.8,926.2 1981.1,926.2 1983.4,925.6 1985.7,926.1 1988.0,927.3 1990.3,930.6 1992.6,927.6 1994.9,926.5 1997.2,927.2 1999.5,927.8 2001.8,925.8 2004.1,928.4 2006.4,929.2 2008.8,928.7 2011.1,929.1 2013.4,926.4 2015.7,925.8 2018.0,930.0 2020.3,929.7 2022.6,925.9 2024.9,928.3 2027.2,928.0 2029.5,928.6 2031.8,928.0 2034.1,926.9 2036.5,927.7 2038.8,927.4 2041.1,926.9 2043.4,924.1 2045.7,922.2 2048.0,924.9 2050.3,923.3 2052.6,925.4 2054.9,925.5 2057.2,924.2 2059.5,922.6 2061.8,922.4 2064.2,923.1 2066.5,919.7 2068.8,921.3 2071.1,920.3 2073.4,919.1 2075.7,920.4 2078.0,917.0 2080.3,918.9 2082.6,915.8 2084.9,915.4 2087.2,914.2 2089.5,915.3 2091.9,912.1 2094.2,912.0 2096.5,908.6 2098.8,909.9 2101.1,909.2 2103.4,905.2 2105.7,905.9 2108.0,903.5 2110.3,905.5 2112.6,902.9 2114.9,901.4 2117.2,907.0 2119.5,906.0 2121.9,906.0 2124.2,907.6 2126.5,907.2 2128.8,909.9 2131.1,909.2 2133.4,913.4 2135.7,912.8 2138.0,910.4 2140.3,911.7 2142.6,914.4 2144.9,914.0 2147.2,918.1 2149.6,919.6 2151.9,919.9 2154.2,921.3 2156.5,923.8 2158.8,926.0 2161.1,926.8 2163.4,925.4 2165.7,927.1 2168.0,925.3 2170.3,927.3 2172.6,925.7 2174.9,928.4 2177.3,925.8 2179.6,926.4 2181.9,928.0 2184.2,928.9 2186.5,926.3 2188.8,927.7 2191.1,928.7 2193.4,929.0 2195.7,927.6 2198.0,929.0 2200.3,928.5 2202.6,931.0 2204.9,929.8 2207.3,927.3 2209.6,926.1 2211.9,929.4 2214.2,931.0 2216.5,929.6 2218.8,930.6 2221.1,928.8 2223.4,927.6 2225.7,930.6 2228.0,929.7 2230.3,930.5 2232.6,927.7 2235.0,929.9 2237.3,928.8 2239.6,930.8 2241.9,928.9 2244.2,928.9 2246.5,928.9 2248.8,931.5 2251.1,929.8 2253.4,928.7 2255.7,928.4 2258.0,928.4 2260.3,931.9 2262.7,927.3 2265.0,928.7 2267.3,930.8 2269.6,931.5 2271.9,929.7 2274.2,931.0"/>
<polyline stroke="#960000" points="208.4,1039.2 210.7,1040.2 213.0,1043.6 215.3,1041.9 217.6,1037.9 219.9,1041.0 222.2,1040.1 224.6,1041.6 226.9,1038.6 229.2,1042.1 231.5,1042.3 233.8,1044.9 236.1,1042.8 238.4,1043.4 240.7,1039.9 243.0,1046.9 245.3,1039.5 247.6,1045.1 249.9,1042.7 252.3,1041.9 254.6,1042.5 256.9,1042.6 259.2,1044.6 261.5,1043.9 263.8,1046.9 266.1,1041.1 268.4,1044.5 270.7,1043.0 273.0,1046.1 275.3,1040.9 277.6,1044.1 280.0,1045.1 282.3,1042.0 284.6,1046.4 286.9,1044.9 289.2,1046.3 291.5,1046.1 293.8,1042.4 296.1,1042.6 298.4,1043.5 300.7,1044.9 303.0,1044.9 305.3,1041.8 307.7,1041.7 310.0,1041.1 312.3,1041.1 314.6,1041.4 316.9,1041.2 319.2,1044.8 321.5,1039.7 323.8,1039.6 326.1,1040.5 328.4,1037.3 330.7,1037.8 333.0,1037.8 335.3,1038.4 337.7,1033.8 340.0,1037.7 342.3,1033.5 344.6,1033.3 346.9,1033.1 349.2,1031.1 351.5,1029.9 353.8,1026.0 356.1,1022.8 358.4,1020.1 360.7,1013.4 363.0,1012.0 365.4,1001.0 367.7,990.0 370.0,981.8 372.3,956.6 374.6,924.5 376.9,889.1 379.2,829.3 381.5,763.4 383.8,679.9 386.1,602.4 388.4,540.1 390.7,523.8 393.1,561.0 395.4,632.9 397.7,715.9 400.0,795.6 402.3,852.2 404.6,906.5 406.9,940.3 409.2,967.6 411.5,983.5 413.8,996.4 416.1,1006.8 418.4,1012.8 420.7,1020.2 423.1,1023.0 425.4,1030.0 427.7,1030.7 430.0,1033.1 432.3,1037.0 434.6,1037.6 436.9,1038.1 439.2,1039.4 441.5,1040.6 443.8,1043.8 446.1,1044.3 448.4,1044.4 450.8,1046.0 453.1,1044.3 455.4,1047.0 457.7,1044.1 460.0,1049.7 462.3,1048.0 464.6,1048.7 466.9,1049.9 469.2,1049.3 471.5,1049.3 473.8,1052.3 476.1,1050.7 478.5,1049.2 480.8,1052.0 483.1,1048.5 485.4,1054.8 487.7,1051.8 490.0,1052.5 492.3,1056.7 494.6,1056.8 496.9,1053.3 499.2,1054.5 501.5,1055.6 503.8,1056.8 506.2,1053.8 508.5,1054.5 510.8,1056.6 513.1,1055.1 515.4,1056.1 517.7,1056.1 520.0,1053.1 522.3,1053.8 524.6,1050.7 526.9,1055.2 529.2,1058.2 531.5,1054.0 533.8,1058.4 536.2,1058.1 538.5,1056.4 540.8,1056.6 543.1,1056.9 545.4,1055.4 547.7,1056.6 550.0,1057.1 552.3,1058.5 554.6,1058.9 556.9,1056.3 559.2,1059.3 561.5,1056.5 563.9,1057.7 566.2,1058.8 568.5,1058.2 570.8,1058.1 573.1,1059.0 575.4,1057.6 577.7,1057.5 580.0,1058.4 582.3,1060.5 584.6,1058.7 586.9,1062.4 589.2,1059.4 591.6,1053.7 593.9,1058.3 596.2,1062.2 598.5,1059.2 600.8,1058.5 603.1,1057.7 605.4,1061.7 607.7,1061.2 610.0,1060.6 612.3,1060.2 614.6,1062.1 616.9,1061.0 619.3,1057.4 621.6,1061.0 623.9,1060.0 626.2,1059.5 628.5,1061.1 630.8,1059.8 633.1,1054.5 635.4,1062.7 637.7,1061.8 640.0,1059.7 642.3,1059.3 644.6,1060.4 646.9,1057.7 649.3,1060.6 651.6,1059.7 653.9,1059.5 656.2,1058.5 658.5,1058.9 660.8,1062.2 663.1,1062.6 665.4,1061.2 667.7,1060.2 670.0,1058.7 672.3,1061.6 674.6,1063.2 677.0,1057.4 679.3,1062.5 681.6,1056.5 683.9,1059.8 686.2,1061.1 688.5,1057.9 690.8,1057.6 693.1,1060.7 695.4,1062.0 697.7,1059.5 700.0,1062.8 702.3,1058.9 704.7,1063.5 707.0,1060.5 709.3,1060.7 711.6,1061.4 713.9,1060.8 716.2,1063.5 718.5,1064.1 720.8,1061.1 723.1,1059.7 725.4,1057.8 727.7,1058.5 730.0,1059.8 732.4,1059.5 734.7,1059.5 737.0,1059.4 739.3,1060.1 741.6,1056.6 743.9,1057.0 746.2,1060.7 748.5,1059.9 750.8,1057.1 753.1,1060.1 755.4,1056.1 757.7,1056.4 760.0,1053.0 762.4,1057.1 764.7,1054.7 767.0,1055.6 769.3,1053.7 771.6,1051.0 773.9,1049.2 776.2,1048.8 778.5,1043.5 780.8,1040.3 783.1,1037.1 785.4,1034.5 787.7,1030.7 790.1,1029.0 792.4,1022.6 794.7,1023.7 797.0,1019.8 799.3,1022.3 801.6,1021.4 803.9,1023.5 806.2,1019.2 808.5,1013.1 810.8,1008.9 813.1,1000.1 815.4,988.8 817.8,978.3 820.1,968.7 822.4,972.8 824.7,971.0 827.0,981.0 829.3,987.2 831.6,997.1 833.9,1006.7 836.2,1012.3 838.5,1017.6 840.8,1016.1 843.1,1019.7 845.4,1022.1 847.8,1018.6 850.1,1024.4 852.4,1024.5 854.7,1031.3 857.0,1035.8 859.3,1042.7 861.6,1042.1 863.9,1047.0 866.2,1051.4 868.5,1049.6 870.8,1053.6 873.1,1053.6 875.5,1055.1 877.8,1058.7 880.1,1059.6 882.4,1063.7 884.7,1062.1 887.0,1062.5 889.3,1060.3 891.6,1060.5 893.9,1061.6 896.2,1057.6 898.5,1065.0 900.8,1061.0 903.2,1060.5 905.5,1061.8 907.8,1064.4 910.1,1065.3 912.4,1062.5 914.7,1064.1 917.0,1063.3 919.3,1061.8 921.6,1064.0 923.9,1063.8 926.2,1061.1 928.5,1065.9 930.9,1061.2 933.2,1064.6 935.5,1062.3 937.8,1062.8 940.1,1063.1 942.4,1065.7 944.7,1062.2 947.0,1064.2 949.3,1067.4 951.6,1063.4 953.9,1064.6 956.2,1065.9 958.5,1063.7 960.9,1065.6 963.2,1063.6 965.5,1066.1 967.8,1065.0 970.1,1063.2 972.4,1067.5 974.7,1064.8 977.0,1064.5 979.3,1063.4 981.6,1064.2 983.9,1064.9 986.2,1065.4 988.6,1067.1 990.9,1062.8 993.2,1064.5 995.5,1067.3 997.8,1065.5 1000.1,1066.0 1002.4,1068.1 1004.7,1065.8 1007.0,1066.1 1009.3,1065.2 1011.6,1068.4 1013.9,1067.2 1016.3,1064.0 1018.6,1066.3 1020.9,1063.2 1023.2,1067.2 1025.5,1066.5 1027.8,1065.0 1030.1,1064.5 1032.4,1062.0 1034.7,1066.6 1037.0,1065.0 1039.3,1064.6 1041.6,1066.4 1044.0,1063.9 1046.3,1064.0 1048.6,1063.8 1050.9,1062.6 1053.2,1069.3 1055.5,1064.6 1057.8,1064.3 1060.1,1066.5 1062.4,1059.1 1064.7,1064.7 1067.0,1064.7 1069.3,1062.8 1071.6,1065.3 1074.0,1060.8 1076.3,1064.3 1078.6,1065.8 1080.9,1060.1 1083.2,1061.3 1085.5,1063.5 1087.8,1063.6 1090.1,1062.3 1092.4,1063.9 1094.7,1063.5 1097.0,1060.4 1099.3,1062.4 1101.7,1060.0 1104.0,1058.3 1106.3,1057.4 1108.6,1063.2 1110.9,1060.8 1113.2,1064.1 1115.5,1057.4 1117.8,1058.9 1120.1,1059.5 1122.4,1058.0 1124.7,1058.3 1127.0,1056.8 1129.4,1054.3 1131.7,1049.9 1134.0,1051.0 1136.3,1054.1 1138.6,1050.3 1140.9,1048.9 1143.2,1042.3 1145.5,1039.3 1147.8,1033.4 1150.1,1030.1 1152.4,1022.3 1154.7,1014.1 1157.0,1005.4 1159.4,986.9 1161.7,974.2 1164.0,953.5 1166.3,944.0 1168.6,932.6 1170.9,934.1 1173.2,944.2 1175.5,962.2 1177.8,975.4 1180.1,990.0 1182.4,1001.8 1184.7,1015.4 1187.1,1021.9 1189.4,1029.5 1191.7,1035.9 1194.0,1041.7 1196.3,1042.7 1198.6,1048.2 1200.9,1052.6 1203.2,1048.7 1205.5,1055.6 1207.8,1058.5 1210.1,1054.7 1212.4,1057.9 1214.8,1055.2 1217.1,1059.1 1219.4,1058.6 1221.7,1060.4 1224.0,1058.7 1226.3,1059.3 1228.6,1060.4 1230.9,1060.3 1233.2,1060.8 1235.5,1061.8 1237.8,1060.4 1240.1,1062.4 1242.5,1063.7 1244.8,1058.9 1247.1,1063.6 1249.4,1062.0 1251.7,1061.5 1254.0,1061.2 1256.3,1062.2 1258.6,1062.5 1260.9,1064.5 1263.2,1061.7 1265.5,1065.9 1267.8,1062.6 1270.1,1065.4 1272.5,1066.1 1274.8,1062.0 1277.1,1066.2 1279.4,1068.2 1281.7,1063.5 1284.0,1065.3 1286.3,1064.1 1288.6,1064.4 1290.9,1063.9 1293.2,1063.3 1295.5,1065.5 1297.8,1065.7 1300.2,1064.0 1302.5,1066.7 1304.8,1065.8 1307.1,1064.9 1309.4,1062.2 1311.7,1066.8 1314.0,1065.5 1316.3,1059.0 1318.6,1060.6 1320.9,1061.5 1323.2,1063.7 1325.5,1063.9 1327.9,1060.6 1330.2,1061.1 1332.5,1061.3 1334.8,1057.1 1337.1,1059.6 1339.4,1057.1 1341.7,1056.8 1344.0,1055.0 1346.3,1051.3 1348.6,1049.6 1350.9,1049.1 1353.2,1046.2 1355.6,1041.8 1357.9,1039.8 1360.2,1031.8 1362.5,1023.9 1364.8,1018.4 1367.1,1011.2 1369.4,1004.0 1371.7,1000.7 1374.0,996.3 1376.3,997.5 1378.6,999.9 1380.9,1003.5 1383.2,1011.5 1385.6,1014.3 1387.9,1019.5 1390.2,1020.1 1392.5,1023.6 1394.8,1022.7 1397.1,1022.4 1399.4,1022.0 1401.7,1018.6 1404.0,1010.4 1406.3,1002.3 1408.6,998.2 1410.9,993.1 1413.3,990.7 1415.6,994.5 1417.9,999.9 1420.2,1006.8 1422.5,1018.5 1424.8,1022.6 1427.1,1029.5 1429.4,1037.5 1431.7,1039.8 1434.0,1043.1 1436.3,1047.0 1438.6,1052.1 1441.0,1054.2 1443.3,1055.9 1445.6,1056.0 1447.9,1056.5 1450.2,1060.9 1452.5,1057.5 1454.8,1060.5 1457.1,1059.2 1459.4,1061.5 1461.7,1062.5 1464.0,1065.5 1466.3,1058.5 1468.6,1066.5 1471.0,1062.8 1473.3,1065.2 1475.6,1066.4 1477.9,1063.8 1480.2,1065.3 1482.5,1066.5 1484.8,1065.6 1487.1,1064.7 1489.4,1066.5 1491.7,1066.6 1494.0,1063.8 1496.3,1069.1 1498.7,1067.2 1501.0,1062.5 1503.3,1065.5 1505.6,1070.2 1507.9,1070.0 1510.2,1067.7 1512.5,1064.3 1514.8,1067.0 1517.1,1069.4 1519.4,1068.2 1521.7,1067.0 1524.0,1066.3 1526.4,1069.1 1528.7,1067.3 1531.0,1068.3 1533.3,1068.7 1535.6,1070.8 1537.9,1068.1 1540.2,1068.3 1542.5,1064.6 1544.8,1069.9 1547.1,1069.5 1549.4,1067.9 1551.7,1063.8 1554.1,1066.9 1556.4,1068.0 1558.7,1071.7 1561.0,1068.9 1563.3,1069.3 1565.6,1069.3 1567.9,1070.2 1570.2,1065.7 1572.5,1066.2 1574.8,1065.5 1577.1,1067.1 1579.4,1066.9 1581.7,1067.7 1584.1,1065.6 1586.4,1067.5 1588.7,1065.7 1591.0,1071.0 1593.3,1066.1 1595.6,1071.6 1597.9,1069.8 1600.2,1064.5 1602.5,1068.2 1604.8,1067.4 1607.1,1063.3 1609.4,1067.0 1611.8,1065.4 1614.1,1065.9 1616.4,1063.4 1618.7,1064.5 1621.0,1064.9 1623.3,1063.3 1625.6,1061.9 1627.9,1062.0 1630.2,1059.7 1632.5,1061.1 1634.8,1054.6 1637.1,1060.7 1639.5,1056.5 1641.8,1055.5 1644.1,1054.2 1646.4,1048.0 1648.7,1052.1 1651.0,1043.2 1653.3,1043.5 1655.6,1040.5 1657.9,1039.6 1660.2,1034.3 1662.5,1028.6 1664.8,1028.4 1667.2,1019.4 1669.5,1020.1 1671.8,1016.6 1674.1,1018.7 1676.4,1015.2 1678.7,1016.7 1681.0,1019.6 1683.3,1023.9 1685.6,1029.4 1687.9,1036.4 1690.2,1037.3 1692.5,1043.3 1694.8,1044.4 1697.2,1049.7 1699.5,1052.8 1701.8,1052.4 1704.1,1055.4 1706.4,1058.2 1708.7,1060.7 1711.0,1062.1 1713.3,1061.2 1715.6,1060.4 1717.9,1060.0 1720.2,1065.0 1722.5,1066.7 1724.9,1065.3 1727.2,1067.9 1729.5,1064.6 1731.8,1065.1 1734.1,1069.0 1736.4,1064.6 1738.7,1067.7 1741.0,1067.6 1743.3,1067.3 1745.6,1070.4 1747.9,1065.8 1750.2,1066.8 1752.6,1063.9 1754.9,1065.9 1757.2,1067.0 1759.5,1067.4 1761.8,1067.8 1764.1,1068.8 1766.4,1067.1 1768.7,1064.8 1771.0,1068.7 1773.3,1069.3 1775.6,1066.4 1777.9,1067.2 1780.3,1071.8 1782.6,1070.5 1784.9,1070.6 1787.2,1069.9 1789.5,1069.0 1791.8,1067.8 1794.1,1069.8 1796.4,1068.4 1798.7,1067.9 1801.0,1068.7 1803.3,1068.6 1805.6,1070.3 1807.9,1066.9 1810.3,1073.2 1812.6,1066.8 1814.9,1067.8 1817.2,1070.2 1819.5,1066.9 1821.8,1067.5 1824.1,1068.4 1826.4,1062.9 1828.7,1067.2 1831.0,1066.3 1833.3,1067.5 1835.6,1068.7 1838.0,1068.8 1840.3,1070.2 1842.6,1069.8 1844.9,1068.8 1847.2,1066.6 1849.5,1068.2 1851.8,1064.2 1854.1,1065.4 1856.4,1067.7 1858.7,1065.9 1861.0,1061.3 1863.3,1062.0 1865.7,1064.0 1868.0,1062.6 1870.3,1062.5 1872.6,1056.3 1874.9,1056.1 1877.2,1056.9 1879.5,1054.5 1881.8,1055.3 1884.1,1054.5 1886.4,1054.5 1888.7,1053.2 1891.0,1054.3 1893.3,1054.9 1895.7,1054.0 1898.0,1052.0 1900.3,1057.2 1902.6,1055.8 1904.9,1056.7 1907.2,1056.7 1909.5,1053.7 1911.8,1057.8 1914.1,1055.5 1916.4,1054.2 1918.7,1058.3 1921.0,1054.8 1923.4,1055.1 1925.7,1055.3 1928.0,1055.7 1930.3,1048.5 1932.6,1049.8 1934.9,1052.1 1937.2,1049.7 1939.5,1045.5 1941.8,1052.6 1944.1,1054.0 1946.4,1056.4 1948.7,1056.8 1951.1,1057.0 1953.4,1059.6 1955.7,1060.4 1958.0,1060.6 1960.3,1063.0 1962.6,1064.1 1964.9,1062.3 1967.2,1066.7 1969.5,1066.9 1971.8,1067.3 1974.1,1061.3 1976.4,1066.8 1978.8,1066.7 1981.1,1065.3 1983.4,1068.4 1985.7,1064.8 1988.0,1069.9 1990.3,1068.5 1992.6,1066.9 1994.9,1070.5 1997.2,1068.8 1999.5,1068.7 2001.8,1065.7 2004.1,1069.1 2006.4,1070.7 2008.8,1070.1 2011.1,1065.8 2013.4,1070.6 2015.7,1071.0 2018.0,1069.6 2020.3,1067.3 2022.6,1065.2 2024.9,1066.2 2027.2,1066.7 2029.5,1068.1 2031.8,1068.5 2034.1,1066.0 2036.5,1064.1 2038.8,1066.1 2041.1,1064.2 2043.4,1068.7 2045.7,1063.7 2048.0,1066.4 2050.3,1066.5 2052.6,1062.7 2054.9,1065.7 2057.2,1062.9 2059.5,1060.9 2061.8,1059.7 2064.2,1060.7 2066.5,1061.6 2068.8,1055.2 2071.1,1059.1 2073.4,1056.9 2075.7,1055.2 2078.0,1055.8 2080.3,1055.3 2082.6,1054.4 2084.9,1055.1 2087.2,1050.8 2089.5,1054.7 2091.9,1051.2 2094.2,1046.7 2096.5,1042.5 2098.8,1044.4 2101.1,1042.4 2103.4,1043.8 2105.7,1043.6 2108.0,1046.3 2110.3,1043.4 2112.6,1046.5 2114.9,1045.7 2117.2,1047.3 2119.5,1052.1 2121.9,1050.0 2124.2,1050.8 2126.5,1050.9 2128.8,1052.4 2131.1,1053.0 2133.4,1051.8 2135.7,1050.3 2138.0,1053.6 2140.3,1052.4 2142.6,1054.5 2144.9,1057.0 2147.2,1058.5 2149.6,1055.2 2151.9,1063.8 2154.2,1063.3 2156.5,1066.4 2158.8,1068.4 2161.1,1062.8 2163.4,1064.1 2165.7,1066.1 2168.0,1067.8 2170.3,1065.5 2172.6,1066.2 2174.9,1069.0 2177.3,1065.7 2179.6,1067.9 2181.9,1069.6 2184.2,1067.3 2186.5,1069.3 2188.8,1067.8 2191.1,1065.3 2193.4,1067.3 2195.7,1068.0 2198.0,1067.8 2200.3,1068.5 2202.6,1069.3 2204.9,1069.1 2207.3,1069.0 2209.6,1067.9 2211.9,1068.3 2214.2,1068.1 2216.5,1067.7 2218.8,1071.3 2221.1,1065.4 2223.4,1069.3 2225.7,1065.9 2228.0,1067.8 2230.3,1070.4 2232.6,1068.4 2235.0,1071.5 2237.3,1067.2 2239.6,1068.4 2241.9,1067.8 2244.2,1069.0 2246.5,1068.4 2248.8,1068.3 2251.1,1069.2 2253.4,1071.0 2255.7,1069.3 2258.0,1069.1 2260.3,1068.5 2262.7,1067.7 2265.0,1066.4 2267.3,1067.1 2269.6,1069.1 2271.9,1065.5 2274.2,1070.2"/>
<polyline stroke="#000000" points="208.4,1520.5 334.5,1520.2 356.5,1519.6 365.5,1518.7 370.3,1517.6 373.1,1516.4 375.1,1515.0 376.5,1513.5 377.9,1511.4 378.6,1510.0 379.3,1508.3 380.0,1506.0 380.6,1503.1 381.3,1499.3 382.0,1494.0 382.7,1486.6 383.0,1481.9 383.4,1475.5 384.1,1457.6 384.5,1439.4 384.8,1426.3 385.3,1388.0 385.5,1370.0 386.0,1294.5 386.2,1274.6 386.9,1144.8 387.5,1068.5 388.2,1144.8 388.9,1274.6 389.0,1294.5 389.6,1370.0 389.8,1388.0 390.3,1426.3 390.5,1439.4 391.0,1457.6 391.7,1475.5 392.0,1481.9 392.4,1486.6 393.1,1494.0 393.7,1499.3 394.4,1503.1 395.1,1506.0 395.8,1508.3 396.5,1510.0 397.2,1511.4 398.6,1513.5 400.6,1515.5 403.4,1517.1 407.5,1518.3 414.4,1519.3 429.6,1520.0 484.7,1520.4 763.0,1520.3 775.4,1520.0 778.9,1519.4 780.6,1518.6 781.6,1517.6 782.3,1516.2 782.8,1514.6 783.0,1513.8 783.6,1510.5 784.4,1504.0 785.1,1500.7 785.8,1504.0 786.6,1510.4 787.2,1513.7 787.3,1514.5 787.8,1516.1 788.5,1517.4 789.6,1518.5 791.3,1519.1 794.7,1519.5 799.6,1519.1 802.3,1518.4 804.4,1517.3 805.8,1515.9 806.5,1514.9 807.1,1513.3 807.5,1512.3 807.8,1511.0 808.5,1507.2 809.0,1503.4 809.2,1500.7 809.7,1492.7 809.9,1488.9 810.5,1473.1 810.6,1469.0 811.3,1441.8 812.0,1425.9 812.7,1441.8 813.3,1469.0 813.5,1473.1 814.0,1488.9 814.2,1492.7 814.7,1500.7 815.0,1503.4 815.4,1507.3 816.1,1511.0 816.5,1512.3 816.8,1513.3 817.5,1514.9 818.2,1516.0 819.5,1517.4 821.6,1518.5 825.1,1519.3 831.3,1519.7 835.4,1519.4 837.5,1518.8 838.8,1517.8 839.6,1516.5 840.2,1514.8 840.4,1514.1 840.9,1511.3 841.1,1509.8 841.6,1505.9 841.9,1503.4 842.3,1500.3 842.6,1499.3 843.0,1500.3 843.4,1503.4 843.7,1505.9 844.1,1509.8 844.3,1511.4 844.9,1514.2 845.0,1514.8 845.7,1516.8 846.4,1517.9 847.8,1519.0 850.5,1519.7 858.1,1520.2 938.1,1520.5 1133.0,1520.3 1149.6,1519.8 1155.8,1519.0 1158.5,1518.1 1160.6,1516.7 1162.0,1515.1 1162.7,1513.8 1163.4,1512.0 1164.0,1509.5 1164.7,1505.5 1165.4,1498.9 1165.5,1497.5 1166.1,1487.0 1166.3,1483.0 1166.8,1465.9 1167.0,1456.5 1167.5,1432.9 1167.8,1417.3 1168.2,1398.6 1168.5,1392.5 1168.9,1398.6 1169.3,1417.3 1169.6,1432.9 1170.0,1456.5 1170.2,1465.9 1170.8,1483.0 1170.9,1487.0 1171.5,1497.5 1171.6,1498.9 1172.3,1505.5 1173.0,1509.6 1173.7,1512.0 1174.4,1513.8 1175.1,1515.1 1176.4,1516.7 1178.5,1518.1 1182.0,1519.2 1188.8,1519.9 1210.2,1520.3 1331.5,1520.3 1347.3,1519.9 1352.8,1519.1 1355.6,1518.1 1357.0,1517.1 1357.7,1516.3 1358.3,1515.2 1359.0,1513.6 1359.7,1511.1 1360.4,1507.0 1360.5,1506.2 1361.1,1499.6 1361.3,1497.1 1361.8,1486.5 1362.0,1480.7 1362.5,1466.1 1362.8,1456.3 1363.2,1444.7 1363.5,1440.9 1363.9,1444.7 1364.3,1456.3 1364.5,1466.0 1365.0,1480.7 1365.2,1486.5 1365.8,1497.1 1365.9,1499.6 1366.5,1506.1 1366.6,1507.0 1367.3,1511.1 1368.0,1513.6 1368.7,1515.2 1369.4,1516.2 1370.7,1517.6 1372.8,1518.7 1376.9,1519.5 1385.9,1519.9 1394.9,1519.6 1399.0,1518.8 1401.1,1517.9 1402.4,1516.8 1403.1,1515.9 1403.8,1514.6 1404.5,1512.7 1405.2,1509.7 1405.6,1506.6 1405.9,1504.4 1406.4,1497.8 1406.6,1494.8 1407.1,1481.9 1407.3,1478.5 1407.9,1456.4 1408.6,1443.4 1409.3,1456.4 1410.0,1478.5 1410.1,1481.9 1410.7,1494.8 1410.9,1497.9 1411.4,1504.4 1411.6,1506.6 1412.1,1509.7 1412.8,1512.8 1413.5,1514.7 1414.1,1515.9 1415.5,1517.5 1417.6,1518.7 1421.0,1519.5 1429.3,1520.1 1470.0,1520.4 1633.3,1520.3 1642.2,1519.9 1645.0,1519.3 1645.7,1518.9 1646.4,1518.2 1647.2,1516.8 1647.7,1515.3 1648.4,1512.3 1648.7,1510.9 1649.1,1509.2 1649.4,1508.6 1649.8,1509.2 1650.2,1510.8 1650.9,1514.3 1651.2,1515.2 1651.9,1517.0 1652.5,1518.0 1653.2,1518.6 1655.3,1519.1 1658.1,1518.9 1660.1,1518.1 1661.5,1517.0 1662.5,1515.5 1662.9,1514.7 1663.6,1512.5 1664.0,1510.2 1664.3,1508.5 1664.8,1503.7 1664.9,1501.4 1665.5,1491.9 1665.6,1489.4 1666.3,1473.0 1667.0,1463.4 1667.7,1473.0 1668.4,1489.4 1668.5,1491.9 1669.1,1501.5 1669.3,1503.7 1669.8,1508.6 1670.0,1510.2 1670.5,1512.5 1671.1,1514.8 1671.8,1516.2 1672.5,1517.1 1673.9,1518.3 1676.0,1519.1 1680.8,1519.9 1696.0,1520.4 1852.4,1520.4 1862.7,1520.0 1866.1,1519.3 1867.8,1518.4 1868.9,1517.1 1869.6,1515.4 1870.1,1513.3 1870.3,1512.3 1870.8,1508.2 1871.0,1507.2 1871.6,1500.1 1872.3,1496.0 1873.0,1500.1 1873.7,1507.1 1873.8,1508.2 1874.4,1512.3 1874.6,1513.3 1875.1,1515.4 1875.8,1517.1 1876.8,1518.4 1878.5,1519.3 1882.0,1520.0 1894.4,1520.4 1918.5,1520.2 1923.3,1519.7 1925.4,1519.0 1926.8,1518.0 1927.5,1517.0 1928.1,1515.3 1928.7,1513.2 1928.8,1512.2 1929.4,1508.0 1929.5,1506.9 1930.2,1499.7 1930.9,1495.5 1931.6,1499.7 1932.3,1506.9 1932.4,1508.0 1933.0,1512.2 1933.1,1513.2 1933.7,1515.3 1934.3,1517.0 1935.4,1518.3 1937.1,1519.3 1940.5,1520.0 1952.9,1520.4 2043.2,1520.3 2047.3,1519.9 2048.7,1519.2 2050.1,1517.6 2050.4,1517.4 2050.8,1517.6 2052.2,1519.2 2053.5,1519.9 2057.7,1520.3 2074.9,1520.1 2080.4,1519.6 2082.5,1519.0 2083.9,1518.2 2084.9,1517.1 2085.2,1516.5 2085.9,1515.0 2086.4,1513.4 2086.6,1512.2 2087.1,1508.9 2087.3,1507.3 2087.9,1500.7 2088.0,1499.0 2088.7,1487.6 2089.4,1481.0 2090.1,1487.6 2090.7,1499.0 2090.9,1500.7 2091.4,1507.3 2091.6,1508.9 2092.1,1512.2 2092.4,1513.4 2092.8,1515.0 2093.5,1516.5 2094.2,1517.5 2095.6,1518.6 2097.6,1519.4 2102.5,1520.0 2116.2,1520.3 2122.4,1519.8 2123.8,1519.4 2125.0,1518.6 2125.9,1517.1 2126.6,1515.0 2127.3,1512.1 2128.0,1510.4 2128.7,1512.4 2129.5,1515.4 2130.2,1517.5 2131.0,1518.7 2132.1,1519.5 2134.8,1520.1 2147.2,1520.4 2275.4,1520.5"/>
<polyline stroke="#808080" points="208.4,1450.0 410.3,1449.8 434.4,1449.2 443.3,1448.5 448.2,1447.5 451.6,1446.0 453.7,1444.5 455.1,1442.9 455.8,1441.8 456.4,1440.5 457.1,1438.9 457.8,1436.7 458.5,1433.9 459.2,1430.2 459.9,1425.0 460.6,1417.4 461.3,1405.8 462.0,1386.1 462.1,1382.0 462.6,1350.8 462.8,1338.9 463.3,1288.5 463.6,1260.5 464.0,1190.8 464.3,1144.5 464.7,1089.2 465.1,1071.0 465.4,1089.2 465.8,1144.5 466.1,1190.8 466.6,1260.5 466.8,1288.5 467.3,1338.9 467.5,1350.8 468.0,1382.0 468.2,1386.1 468.8,1405.8 469.5,1417.7 470.2,1425.0 470.9,1430.2 471.6,1433.9 472.3,1436.7 473.0,1438.9 473.7,1440.5 474.4,1441.8 475.7,1443.8 477.8,1445.6 480.6,1447.0 484.7,1448.1 492.3,1449.0 510.2,1449.6 597.0,1449.9 725.8,1449.7 741.7,1449.3 747.9,1448.5 751.3,1447.4 753.4,1446.0 754.8,1444.4 755.5,1443.2 756.2,1441.7 756.8,1439.5 757.5,1436.3 758.2,1431.4 758.9,1423.2 759.0,1421.5 759.6,1408.4 759.8,1403.4 760.3,1382.2 760.5,1370.5 761.0,1341.2 761.3,1321.8 761.7,1298.6 762.0,1291.0 762.4,1298.6 762.8,1321.8 763.0,1341.2 763.5,1370.5 763.7,1382.2 764.3,1403.4 764.4,1408.4 765.0,1421.5 765.1,1423.2 765.8,1431.4 766.5,1436.4 767.2,1439.5 767.9,1441.7 768.6,1443.2 769.2,1444.4 770.6,1446.0 772.7,1447.4 776.1,1448.5 783.0,1449.3 802.3,1449.8 854.0,1449.8 860.9,1449.3 862.9,1448.8 864.3,1448.0 865.0,1447.3 865.7,1446.0 866.2,1444.4 866.4,1443.6 867.0,1440.4 867.8,1434.1 868.5,1430.9 869.2,1434.1 870.0,1440.4 870.5,1443.6 870.7,1444.4 871.2,1446.0 871.9,1447.3 873.0,1448.3 874.7,1449.0 878.8,1449.6 898.8,1449.8 920.8,1449.5 927.7,1448.8 930.5,1448.0 932.5,1446.8 933.9,1445.2 934.6,1443.9 935.3,1442.1 936.0,1439.3 936.7,1434.5 936.8,1433.6 937.4,1426.0 937.5,1423.2 938.1,1411.0 938.3,1404.2 938.7,1387.4 939.0,1376.2 939.4,1362.9 939.8,1358.5 940.1,1362.9 940.5,1376.2 940.8,1387.4 941.3,1404.2 941.5,1411.0 942.0,1423.2 942.2,1426.0 942.8,1433.6 942.9,1434.5 943.6,1439.3 944.3,1442.2 944.9,1443.9 945.6,1445.2 947.0,1446.8 949.1,1448.0 952.5,1448.9 960.1,1449.6 990.4,1449.9 1022.1,1449.7 1028.3,1449.1 1030.4,1448.5 1031.8,1447.6 1032.4,1446.8 1033.1,1445.6 1033.6,1444.3 1033.8,1443.4 1034.3,1440.7 1034.5,1439.5 1035.1,1434.2 1035.2,1432.8 1035.9,1423.8 1036.6,1418.5 1037.3,1423.8 1038.0,1432.8 1038.1,1434.2 1038.6,1439.5 1038.8,1440.7 1039.3,1443.4 1039.6,1444.3 1040.0,1445.6 1040.7,1446.8 1041.4,1447.6 1042.8,1448.5 1045.5,1449.2 1053.1,1449.8 1129.6,1450.0 1343.9,1449.8 1365.2,1449.3 1372.8,1448.6 1376.9,1447.6 1379.7,1446.3 1381.1,1445.2 1382.5,1443.5 1383.1,1442.3 1383.8,1440.7 1384.5,1438.7 1385.2,1435.9 1385.9,1431.9 1386.2,1429.5 1386.6,1426.0 1387.3,1416.5 1387.7,1406.8 1388.0,1399.9 1388.5,1379.5 1388.7,1369.9 1389.2,1329.7 1389.3,1319.1 1390.0,1250.1 1390.7,1209.5 1391.4,1250.1 1392.1,1319.1 1392.2,1329.7 1392.8,1369.9 1393.0,1379.5 1393.5,1399.9 1393.7,1406.8 1394.2,1416.5 1394.9,1426.0 1395.2,1429.5 1395.5,1431.9 1396.2,1435.9 1396.9,1438.7 1397.6,1440.7 1398.3,1442.3 1399.0,1443.5 1400.4,1445.1 1402.4,1446.7 1405.2,1447.8 1410.0,1448.7 1420.4,1449.4 1444.5,1449.6 1455.5,1449.2 1459.6,1448.6 1461.7,1447.8 1463.1,1446.9 1463.8,1446.2 1464.4,1445.2 1465.1,1443.8 1465.8,1441.6 1466.5,1437.9 1466.6,1437.1 1467.2,1431.2 1467.4,1429.0 1467.9,1419.4 1468.1,1414.2 1468.6,1401.0 1468.9,1392.3 1469.3,1381.9 1469.6,1378.4 1470.0,1381.9 1470.4,1392.3 1470.6,1401.0 1471.1,1414.2 1471.3,1419.4 1471.9,1429.0 1472.0,1431.2 1472.6,1437.1 1472.7,1437.9 1473.4,1441.6 1474.1,1443.8 1474.8,1445.2 1475.5,1446.2 1476.8,1447.4 1478.9,1448.4 1483.0,1449.2 1494.1,1449.7 1585.0,1450.0 1663.6,1449.8 1671.8,1449.3 1674.6,1448.6 1676.0,1447.8 1676.7,1447.2 1677.3,1446.2 1678.1,1444.1 1678.7,1441.4 1678.9,1440.4 1679.4,1436.1 1679.6,1433.7 1680.1,1427.7 1680.4,1423.8 1680.8,1419.0 1681.1,1417.5 1681.5,1419.0 1681.9,1423.8 1682.2,1427.7 1682.6,1433.7 1682.9,1436.1 1683.4,1440.4 1683.5,1441.4 1684.2,1444.5 1684.9,1446.2 1685.6,1447.2 1687.0,1448.2 1689.7,1449.1 1696.6,1449.6 1711.8,1449.6 1716.6,1449.1 1718.7,1448.5 1720.1,1447.7 1720.8,1447.0 1721.4,1446.0 1722.2,1443.8 1722.8,1441.0 1723.0,1440.0 1723.5,1435.5 1723.7,1432.9 1724.2,1426.7 1724.5,1422.5 1724.9,1417.6 1725.2,1416.0 1725.6,1417.6 1726.0,1422.5 1726.3,1426.7 1726.7,1433.0 1727.0,1435.5 1727.5,1440.0 1727.6,1441.1 1728.3,1444.2 1729.0,1446.0 1729.7,1447.1 1731.1,1448.2 1733.2,1449.0 1738.0,1449.6 1758.6,1449.9 1771.7,1449.7 1773.8,1449.3 1775.9,1447.9 1777.3,1448.9 1778.9,1449.6 1784.8,1449.9 1867.5,1449.8 1880.6,1449.2 1885.4,1448.4 1887.5,1447.5 1888.9,1446.5 1889.6,1445.8 1890.2,1444.7 1890.9,1443.3 1891.6,1441.1 1892.3,1437.6 1892.8,1434.0 1893.0,1431.5 1893.5,1424.0 1893.7,1420.4 1894.3,1405.7 1894.4,1401.8 1895.1,1376.3 1895.8,1361.4 1896.4,1376.3 1897.1,1401.7 1897.3,1405.6 1897.8,1420.4 1898.0,1423.9 1898.5,1431.4 1898.8,1434.0 1899.2,1437.6 1899.9,1441.0 1900.6,1443.2 1901.3,1444.7 1902.0,1445.7 1903.3,1447.0 1905.4,1448.0 1908.9,1448.7 1913.7,1448.7 1916.4,1448.2 1918.5,1447.2 1919.5,1446.1 1919.9,1445.5 1920.6,1443.8 1921.0,1442.1 1921.3,1440.9 1921.8,1437.3 1921.9,1435.6 1922.5,1428.5 1922.6,1426.6 1923.3,1414.4 1924.0,1407.3 1924.7,1414.5 1925.4,1426.7 1925.5,1428.6 1926.1,1435.7 1926.3,1437.4 1926.8,1441.0 1927.0,1442.2 1927.5,1443.9 1928.1,1445.6 1928.8,1446.7 1930.2,1447.9 1932.3,1448.7 1937.1,1449.4 1953.6,1449.9 2007.4,1449.8 2010.6,1449.4 2011.5,1449.0 2012.9,1447.5 2013.6,1447.0 2014.3,1447.6 2015.6,1449.0 2017.0,1449.6 2022.5,1449.9 2145.2,1449.9 2150.7,1449.4 2152.5,1448.6 2153.4,1447.5 2154.1,1445.9 2154.8,1443.8 2155.5,1442.5 2156.3,1443.9 2157.0,1446.2 2157.8,1447.8 2158.5,1448.6 2160.3,1449.4 2165.8,1449.9 2259.6,1449.9 2264.4,1449.5 2265.8,1449.1 2266.4,1448.5 2267.1,1447.5 2267.8,1446.3 2268.5,1445.5 2269.3,1446.4 2270.0,1447.7 2270.8,1448.7 2272.0,1449.4 2275.4,1449.8"/>
<polyline stroke="#808000" points="208.4,1383.7 357.2,1383.5 374.4,1383.0 380.6,1382.2 383.4,1381.3 385.5,1380.0 386.2,1379.3 386.9,1378.3 387.5,1376.7 388.2,1374.2 388.9,1370.3 389.4,1366.0 389.6,1364.3 390.3,1355.7 390.6,1350.5 391.0,1344.8 391.8,1329.7 392.4,1322.1 393.1,1317.7 393.7,1321.9 394.3,1329.3 395.1,1344.1 395.5,1349.7 395.8,1354.8 396.5,1363.0 396.7,1364.7 397.2,1368.7 397.9,1372.2 398.2,1373.3 398.6,1374.1 399.3,1374.9 399.9,1374.7 400.3,1374.3 400.6,1373.5 401.3,1371.0 401.8,1368.0 402.0,1366.8 402.7,1360.6 403.0,1356.8 403.4,1352.5 404.2,1341.2 404.8,1335.6 405.5,1332.4 406.1,1335.9 406.7,1341.7 407.5,1353.4 407.9,1357.8 408.2,1361.8 408.9,1368.4 409.1,1369.8 409.6,1373.1 410.3,1376.1 411.0,1378.1 411.7,1379.3 413.0,1380.7 415.1,1381.7 419.2,1382.6 428.9,1383.3 467.5,1383.7 552.9,1383.5 565.3,1383.0 570.1,1382.2 572.2,1381.4 573.6,1380.4 574.3,1379.7 574.9,1378.6 575.6,1376.8 576.0,1375.6 576.3,1374.0 577.0,1369.6 577.2,1368.2 577.7,1363.1 578.4,1354.2 579.6,1335.4 579.8,1332.9 580.5,1325.8 580.8,1324.7 581.1,1325.8 581.8,1332.9 582.0,1335.4 583.2,1354.2 583.9,1363.1 584.4,1368.2 584.6,1369.6 585.3,1374.0 585.6,1375.6 586.0,1376.8 586.7,1378.6 587.3,1379.7 588.7,1381.0 590.8,1381.9 594.9,1382.8 604.6,1383.4 640.4,1383.6 646.3,1383.3 648.0,1382.6 650.7,1380.8 651.4,1380.8 654.9,1383.0 657.6,1383.5 693.5,1383.7 752.0,1383.5 758.9,1383.0 761.0,1382.3 761.7,1381.8 762.4,1380.9 763.0,1379.7 763.7,1377.8 764.4,1375.5 765.3,1372.3 765.8,1370.6 766.5,1369.7 767.2,1370.6 767.9,1372.9 768.9,1376.7 769.2,1377.8 770.1,1380.0 770.6,1380.9 771.3,1381.8 772.7,1382.6 776.1,1383.2 788.5,1383.5 797.5,1383.2 799.6,1382.6 800.8,1381.6 802.0,1379.7 803.7,1376.2 804.4,1375.7 805.1,1376.2 807.1,1380.3 808.0,1381.6 809.2,1382.6 811.6,1383.2 819.5,1383.4 822.3,1383.1 823.7,1382.6 826.4,1380.7 827.1,1380.7 830.6,1383.0 833.3,1383.5 858.8,1383.6 865.0,1383.4 867.4,1382.7 869.2,1381.8 869.8,1381.7 871.2,1382.1 873.5,1383.2 877.1,1383.6 891.9,1383.4 896.0,1382.9 897.7,1382.1 899.0,1380.7 899.5,1379.7 900.2,1378.0 901.5,1373.8 902.2,1372.4 902.6,1372.2 902.9,1372.4 903.8,1374.3 905.0,1378.0 905.7,1379.7 906.4,1381.0 907.4,1382.1 909.1,1382.9 913.9,1383.5 946.3,1383.7 968.4,1383.4 972.5,1382.9 973.9,1382.2 974.7,1381.2 975.3,1380.4 975.9,1379.0 977.3,1375.6 978.0,1374.4 978.4,1374.2 978.7,1374.4 979.6,1376.0 980.8,1379.0 981.5,1380.4 982.1,1381.5 983.2,1382.4 984.9,1383.1 991.1,1383.6 1075.2,1383.7 1095.1,1383.4 1098.6,1382.9 1100.3,1382.1 1101.5,1380.7 1102.0,1379.7 1102.7,1378.0 1104.1,1373.8 1104.8,1372.4 1105.1,1372.2 1105.5,1372.4 1106.3,1374.3 1107.5,1378.0 1108.2,1379.7 1108.9,1381.0 1110.0,1382.1 1111.7,1382.9 1116.5,1383.4 1145.4,1383.6 1162.7,1383.3 1166.8,1382.7 1168.9,1381.8 1169.9,1380.7 1170.2,1380.2 1171.1,1378.0 1171.6,1376.2 1172.3,1373.0 1173.7,1365.2 1174.4,1362.6 1174.7,1362.2 1175.1,1362.6 1175.8,1365.2 1177.1,1372.9 1177.8,1376.2 1178.5,1378.5 1179.2,1380.2 1179.9,1381.2 1181.3,1382.2 1184.0,1382.9 1191.6,1383.4 1202.6,1383.2 1205.4,1382.8 1207.1,1381.9 1208.3,1380.2 1208.8,1379.1 1209.5,1377.2 1210.9,1372.5 1211.6,1370.9 1211.9,1370.7 1212.3,1370.9 1213.0,1372.5 1214.3,1377.2 1215.0,1379.1 1215.7,1380.6 1216.8,1381.9 1218.5,1382.8 1222.6,1383.3 1226.7,1383.3 1229.2,1382.6 1230.9,1381.7 1231.6,1381.6 1232.9,1382.1 1235.2,1383.1 1238.8,1383.6 1305.3,1383.6 1310.1,1383.3 1312.2,1382.5 1313.6,1381.8 1314.2,1381.7 1315.6,1382.2 1317.9,1383.2 1321.5,1383.6 1352.8,1383.6 1355.6,1383.2 1359.0,1382.2 1363.2,1383.3 1370.7,1383.5 1380.4,1383.1 1383.1,1382.6 1384.5,1381.7 1385.2,1380.8 1385.9,1379.5 1386.6,1377.6 1387.3,1375.1 1388.1,1371.8 1388.7,1370.1 1389.3,1369.1 1390.0,1370.1 1390.7,1372.4 1391.8,1376.4 1392.1,1377.5 1393.0,1379.8 1393.5,1380.7 1394.2,1381.6 1395.5,1382.5 1399.0,1383.1 1407.9,1383.2 1413.5,1382.6 1415.5,1381.9 1416.2,1381.4 1416.9,1380.5 1417.6,1379.2 1418.3,1377.2 1419.0,1374.4 1419.7,1370.8 1420.5,1365.8 1421.0,1363.3 1421.7,1361.8 1422.4,1363.1 1423.1,1366.5 1424.1,1372.1 1424.8,1375.0 1425.3,1376.5 1426.0,1377.6 1426.6,1377.9 1427.2,1377.5 1429.0,1374.9 1429.7,1374.6 1430.0,1374.8 1430.9,1376.2 1432.1,1378.9 1432.8,1380.1 1433.4,1380.9 1434.5,1381.5 1435.9,1381.2 1437.6,1380.2 1438.3,1380.1 1439.5,1380.8 1441.7,1382.5 1443.8,1383.1 1450.0,1383.3 1452.7,1382.9 1455.5,1382.1 1459.6,1383.3 1467.2,1383.6 1479.6,1383.2 1482.4,1382.8 1483.7,1382.0 1484.6,1381.0 1485.1,1380.1 1485.8,1378.6 1487.2,1374.9 1487.9,1373.7 1488.2,1373.5 1488.6,1373.7 1489.3,1374.8 1490.6,1378.3 1491.3,1379.6 1492.0,1380.5 1492.7,1380.9 1493.7,1380.7 1495.5,1379.4 1496.1,1379.2 1496.8,1379.6 1498.9,1381.8 1500.3,1382.7 1502.3,1383.2 1509.2,1383.4 1514.1,1382.6 1518.9,1383.5 1567.8,1383.7 1579.5,1383.5 1581.6,1383.0 1583.3,1382.0 1585.0,1380.5 1585.7,1380.2 1586.4,1380.5 1589.2,1382.7 1591.2,1383.4 1601.6,1383.7 1645.7,1383.5 1649.8,1383.1 1651.7,1382.2 1652.9,1380.9 1654.6,1378.5 1655.3,1378.2 1656.0,1378.5 1658.4,1381.7 1659.4,1382.5 1660.8,1382.9 1662.9,1382.6 1664.9,1381.7 1665.6,1381.6 1667.0,1382.0 1669.3,1383.1 1672.9,1383.5 1693.9,1383.5 1698.0,1383.2 1700.1,1382.4 1701.5,1381.1 1702.8,1379.7 1703.5,1379.4 1704.2,1379.6 1706.3,1381.3 1707.1,1381.7 1708.4,1381.6 1709.2,1380.8 1709.7,1380.0 1710.8,1377.9 1711.8,1375.3 1712.5,1374.2 1712.8,1374.0 1713.2,1374.2 1714.0,1375.8 1715.2,1378.8 1715.9,1380.2 1716.6,1381.2 1717.7,1382.2 1719.4,1382.8 1722.1,1382.8 1723.5,1382.3 1726.3,1380.5 1727.0,1380.5 1730.4,1382.8 1733.2,1383.3 1738.7,1383.1 1740.0,1382.7 1741.4,1381.8 1743.5,1379.2 1744.2,1378.6 1744.9,1378.6 1745.7,1379.4 1747.6,1381.6 1749.0,1382.5 1751.4,1382.8 1753.1,1382.4 1754.5,1381.5 1755.2,1380.7 1756.2,1378.7 1757.4,1375.6 1758.0,1374.5 1758.3,1374.0 1758.7,1373.9 1759.3,1374.4 1761.4,1378.8 1762.3,1379.8 1763.1,1380.1 1764.9,1379.2 1765.5,1379.0 1766.2,1379.4 1768.3,1381.6 1769.7,1382.5 1771.7,1383.0 1774.0,1382.8 1777.3,1381.4 1778.6,1381.7 1781.2,1382.8 1783.1,1382.7 1784.3,1382.2 1785.5,1381.1 1786.9,1379.3 1787.6,1378.7 1788.3,1378.7 1789.1,1379.5 1791.0,1381.9 1792.4,1382.8 1795.2,1383.4 1814.5,1383.7 1884.0,1383.6 1887.5,1383.3 1889.4,1382.5 1890.9,1381.1 1892.3,1379.5 1893.0,1379.2 1893.7,1379.5 1895.8,1381.8 1897.1,1382.8 1899.2,1383.4 1911.6,1383.7 1938.5,1383.5 1941.6,1383.0 1942.8,1382.4 1944.0,1381.2 1945.4,1379.4 1946.1,1378.8 1946.7,1378.8 1947.6,1379.6 1949.5,1382.0 1950.9,1382.9 1953.6,1383.5 1972.2,1383.7 1978.4,1383.4 1982.6,1382.2 1986.7,1383.4 1995.0,1383.7 2006.0,1383.5 2010.1,1382.7 2014.3,1383.4 2017.0,1383.2 2020.5,1382.2 2024.6,1383.3 2027.4,1383.2 2030.8,1382.2 2034.9,1383.4 2042.5,1383.7 2051.3,1383.5 2054.9,1382.7 2059.7,1383.6 2154.8,1383.7 2163.8,1383.4 2166.2,1382.7 2168.3,1381.7 2169.8,1381.9 2171.9,1382.6 2173.4,1382.3 2174.8,1381.7 2175.8,1381.7 2179.1,1383.2 2182.7,1383.6 2192.0,1383.5 2196.2,1382.7 2201.0,1383.6 2234.7,1383.6 2237.5,1383.3 2241.0,1382.2 2245.1,1383.4 2253.4,1383.7 2275.4,1383.7"/>
</g>
<g font-size="63.8" text-anchor="middle">
<text transform="translate(208.0,1660) scale(1,1.01)">20</text>
<text transform="translate(552.6,1660) scale(1,1.01)">30</text>
<text transform="translate(897.2,1660) scale(1,1.01)">40</text>
<text transform="translate(1241.8,1660) scale(1,1.01)">50</text>
<text transform="translate(1586.3,1660) scale(1,1.01)">60</text>
<text transform="translate(1930.9,1660) scale(1,1.01)">70</text>
<text transform="translate(2275.5,1660) scale(1,1.01)">80</text>
</g>
<text transform="translate(1241.5,1789) scale(1,1.01)" font-size="78.6" text-anchor="middle">2 theta (°)</text>
<text transform="translate(97.8,851) rotate(-90) scale(1,1.056)" font-size="77.65" text-anchor="middle">Intensity (a.u.)</text>
<g stroke-width="6" stroke-linecap="round" fill="none" shape-rendering="crispEdges">
<path stroke="#FFFF70" d="M1466,81.0 H1591"/>
<path stroke="#FF8000" d="M1466,150.0 H1591"/>
<path stroke="#FF0000" d="M1466,219.0 H1591"/>
<path stroke="#960000" d="M1466,288.0 H1591"/>
<path stroke="#808000" d="M1466,357.0 H1591"/>
<path stroke="#808080" d="M1466,426.0 H1591"/>
<path stroke="#000000" d="M1466,495.0 H1591"/>
</g>
<g font-size="56.2">
<text transform="scale(1,1.015)"><tspan x="1606.6" y="99.31" font-size="56.87">TiO</tspan><tspan x="1691.8" y="120.10" font-size="40">2</tspan><tspan x="1712.40" y="99.31" font-size="56.71">-EtOH-D3</tspan></text>
<text transform="scale(1,1.015)"><tspan x="1606.6" y="167.11" font-size="56.87">TiO</tspan><tspan x="1694.8" y="185.83" font-size="40">2</tspan><tspan x="1712.40" y="167.11" font-size="56.71">-EtOH-C3"</tspan></text>
<text transform="scale(1,1.015)"><tspan x="1606.6" y="234.92" font-size="56.87">TiO</tspan><tspan x="1695.6" y="253.83" font-size="40">2</tspan><tspan x="1712.40" y="234.92" font-size="56.71">-EtOH-C3'</tspan></text>
<text transform="scale(1,1.015)"><tspan x="1606.6" y="302.72" font-size="56.87">TiO</tspan><tspan x="1695.6" y="321.64" font-size="40">2</tspan><tspan x="1712.40" y="302.72" font-size="56.71">-EtOH-C3</tspan></text>
<text transform="scale(1,1.015)"><tspan x="1606.6" y="370.52" font-size="56.87">TiO</tspan><tspan x="1695.6" y="389.44" font-size="40">2</tspan><tspan x="1713.95" y="370.52" font-size="55.98"> brookite ICSD 31122</tspan></text>
<text transform="scale(1,1.015)"><tspan x="1606.6" y="438.33" font-size="56.87">TiO</tspan><tspan x="1695.6" y="457.24" font-size="40">2</tspan><tspan x="1713.95" y="438.33" font-size="55.98"> rutile ICSD 9161</tspan></text>
<text transform="scale(1,1.015)"><tspan x="1606.6" y="506.13" font-size="56.87">TiO</tspan><tspan x="1695.6" y="525.04" font-size="40">2</tspan><tspan x="1713.98" y="506.13" font-size="55.86"> anatase ICSD 9854</tspan></text>
</g>
</svg>
</body></html>
